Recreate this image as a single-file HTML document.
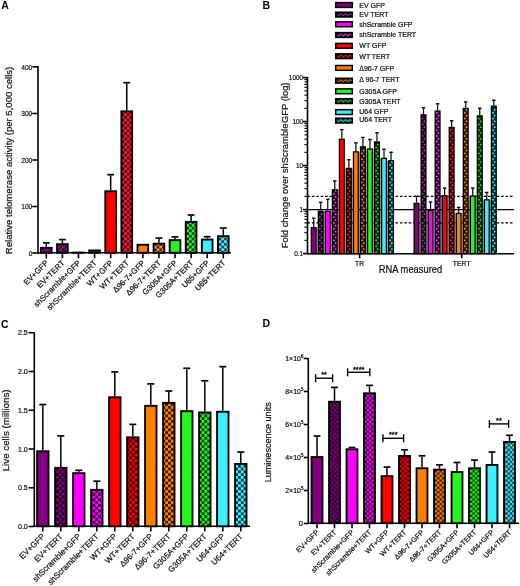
<!DOCTYPE html>
<html><head><meta charset="utf-8"><style>
html,body{margin:0;padding:0;background:#fff;width:520px;height:586px;overflow:hidden}
svg{display:block;will-change:transform}
text{font-family:"Liberation Sans", sans-serif}
</style></head><body>
<svg width="520" height="586" viewBox="0 0 520 586">
<defs><pattern id="a800080" patternUnits="userSpaceOnUse" width="5.4" height="5.4"><rect width="5.4" height="5.4" fill="#2a002a"/><rect width="2.7" height="2.7" fill="#8a1a8a"/><rect x="2.7" y="2.7" width="2.7" height="2.7" fill="#8a1a8a"/></pattern><pattern id="a3cf0ff" patternUnits="userSpaceOnUse" width="5.4" height="5.4"><rect width="5.4" height="5.4" fill="#004850"/><rect width="2.7" height="2.7" fill="#50e8f8"/><rect x="2.7" y="2.7" width="2.7" height="2.7" fill="#50e8f8"/></pattern><pattern id="aff8000" patternUnits="userSpaceOnUse" width="5.4" height="5.4"><rect width="5.4" height="5.4" fill="#502000"/><rect width="2.7" height="2.7" fill="#f09040"/><rect x="2.7" y="2.7" width="2.7" height="2.7" fill="#f09040"/></pattern><pattern id="aff00ff" patternUnits="userSpaceOnUse" width="5.4" height="5.4"><rect width="5.4" height="5.4" fill="#400040"/><rect width="2.7" height="2.7" fill="#f020f0"/><rect x="2.7" y="2.7" width="2.7" height="2.7" fill="#f020f0"/></pattern><pattern id="a26f520" patternUnits="userSpaceOnUse" width="5.4" height="5.4"><rect width="5.4" height="5.4" fill="#004a00"/><rect width="2.7" height="2.7" fill="#40e040"/><rect x="2.7" y="2.7" width="2.7" height="2.7" fill="#40e040"/></pattern><pattern id="aff0000" patternUnits="userSpaceOnUse" width="5.4" height="5.4"><rect width="5.4" height="5.4" fill="#5a0010"/><rect width="2.7" height="2.7" fill="#e6203a"/><rect x="2.7" y="2.7" width="2.7" height="2.7" fill="#e6203a"/></pattern><pattern id="c800080" patternUnits="userSpaceOnUse" width="5.6" height="5.6"><rect width="5.6" height="5.6" fill="#1a001a"/><rect width="2.8" height="2.8" fill="#800080"/><rect x="2.8" y="2.8" width="2.8" height="2.8" fill="#800080"/></pattern><pattern id="c3cf0ff" patternUnits="userSpaceOnUse" width="5.6" height="5.6"><rect width="5.6" height="5.6" fill="#003a40"/><rect width="2.8" height="2.8" fill="#3cf0ff"/><rect x="2.8" y="2.8" width="2.8" height="2.8" fill="#3cf0ff"/></pattern><pattern id="cff8000" patternUnits="userSpaceOnUse" width="5.6" height="5.6"><rect width="5.6" height="5.6" fill="#3a1800"/><rect width="2.8" height="2.8" fill="#ff8000"/><rect x="2.8" y="2.8" width="2.8" height="2.8" fill="#ff8000"/></pattern><pattern id="cff00ff" patternUnits="userSpaceOnUse" width="5.6" height="5.6"><rect width="5.6" height="5.6" fill="#300030"/><rect width="2.8" height="2.8" fill="#ff00ff"/><rect x="2.8" y="2.8" width="2.8" height="2.8" fill="#ff00ff"/></pattern><pattern id="c26f520" patternUnits="userSpaceOnUse" width="5.6" height="5.6"><rect width="5.6" height="5.6" fill="#003a00"/><rect width="2.8" height="2.8" fill="#26f520"/><rect x="2.8" y="2.8" width="2.8" height="2.8" fill="#26f520"/></pattern><pattern id="cff0000" patternUnits="userSpaceOnUse" width="5.6" height="5.6"><rect width="5.6" height="5.6" fill="#3a0000"/><rect width="2.8" height="2.8" fill="#ff0000"/><rect x="2.8" y="2.8" width="2.8" height="2.8" fill="#ff0000"/></pattern><pattern id="d800080" patternUnits="userSpaceOnUse" width="4.7" height="4.7"><rect width="4.7" height="4.7" fill="#1a001a"/><rect width="2.35" height="2.35" fill="#800080"/><rect x="2.35" y="2.35" width="2.35" height="2.35" fill="#800080"/></pattern><pattern id="d3cf0ff" patternUnits="userSpaceOnUse" width="4.7" height="4.7"><rect width="4.7" height="4.7" fill="#003a40"/><rect width="2.35" height="2.35" fill="#3cf0ff"/><rect x="2.35" y="2.35" width="2.35" height="2.35" fill="#3cf0ff"/></pattern><pattern id="dff8000" patternUnits="userSpaceOnUse" width="4.7" height="4.7"><rect width="4.7" height="4.7" fill="#3a1800"/><rect width="2.35" height="2.35" fill="#ff8000"/><rect x="2.35" y="2.35" width="2.35" height="2.35" fill="#ff8000"/></pattern><pattern id="dff00ff" patternUnits="userSpaceOnUse" width="4.7" height="4.7"><rect width="4.7" height="4.7" fill="#300030"/><rect width="2.35" height="2.35" fill="#ff00ff"/><rect x="2.35" y="2.35" width="2.35" height="2.35" fill="#ff00ff"/></pattern><pattern id="d26f520" patternUnits="userSpaceOnUse" width="4.7" height="4.7"><rect width="4.7" height="4.7" fill="#003a00"/><rect width="2.35" height="2.35" fill="#26f520"/><rect x="2.35" y="2.35" width="2.35" height="2.35" fill="#26f520"/></pattern><pattern id="dff0000" patternUnits="userSpaceOnUse" width="4.7" height="4.7"><rect width="4.7" height="4.7" fill="#3a0000"/><rect width="2.35" height="2.35" fill="#ff0000"/><rect x="2.35" y="2.35" width="2.35" height="2.35" fill="#ff0000"/></pattern><pattern id="b800080" patternUnits="userSpaceOnUse" width="3" height="4"><rect width="3" height="4" fill="#1a001a"/><circle cx="1" cy="1" r="0.8" fill="#800080"/><circle cx="2" cy="3" r="0.8" fill="#800080"/></pattern><pattern id="b3cf0ff" patternUnits="userSpaceOnUse" width="3" height="4"><rect width="3" height="4" fill="#003a40"/><circle cx="1" cy="1" r="0.8" fill="#3cf0ff"/><circle cx="2" cy="3" r="0.8" fill="#3cf0ff"/></pattern><pattern id="bff8000" patternUnits="userSpaceOnUse" width="3" height="4"><rect width="3" height="4" fill="#3a1800"/><circle cx="1" cy="1" r="0.8" fill="#ff8000"/><circle cx="2" cy="3" r="0.8" fill="#ff8000"/></pattern><pattern id="bff00ff" patternUnits="userSpaceOnUse" width="3" height="4"><rect width="3" height="4" fill="#300030"/><circle cx="1" cy="1" r="0.8" fill="#ff00ff"/><circle cx="2" cy="3" r="0.8" fill="#ff00ff"/></pattern><pattern id="b26f520" patternUnits="userSpaceOnUse" width="3" height="4"><rect width="3" height="4" fill="#003a00"/><circle cx="1" cy="1" r="0.8" fill="#26f520"/><circle cx="2" cy="3" r="0.8" fill="#26f520"/></pattern><pattern id="bff0000" patternUnits="userSpaceOnUse" width="3" height="4"><rect width="3" height="4" fill="#3a0000"/><circle cx="1" cy="1" r="0.8" fill="#ff0000"/><circle cx="2" cy="3" r="0.8" fill="#ff0000"/></pattern></defs>
<rect width="520" height="586" fill="#fff"/>
<text x="1.20" y="8.60" font-size="10.5" text-anchor="start" font-weight="bold" fill="#000"   >A</text>
<line x1="38.00" y1="66.00" x2="38.00" y2="254.00" stroke="#000" stroke-width="1.6" />
<line x1="32.30" y1="253.00" x2="38.00" y2="253.00" stroke="#000" stroke-width="1.6" />
<text x="32.30" y="255.70" font-size="7.5" text-anchor="end" font-weight="normal" fill="#111" stroke="#111" stroke-width="0.22" textLength="3.67" lengthAdjust="spacingAndGlyphs" >0</text>
<line x1="32.30" y1="206.50" x2="38.00" y2="206.50" stroke="#000" stroke-width="1.6" />
<text x="32.30" y="209.20" font-size="7.5" text-anchor="end" font-weight="normal" fill="#111" stroke="#111" stroke-width="0.22" textLength="11.01" lengthAdjust="spacingAndGlyphs" >100</text>
<line x1="32.30" y1="160.00" x2="38.00" y2="160.00" stroke="#000" stroke-width="1.6" />
<text x="32.30" y="162.70" font-size="7.5" text-anchor="end" font-weight="normal" fill="#111" stroke="#111" stroke-width="0.22" textLength="11.01" lengthAdjust="spacingAndGlyphs" >200</text>
<line x1="32.30" y1="113.50" x2="38.00" y2="113.50" stroke="#000" stroke-width="1.6" />
<text x="32.30" y="116.20" font-size="7.5" text-anchor="end" font-weight="normal" fill="#111" stroke="#111" stroke-width="0.22" textLength="11.01" lengthAdjust="spacingAndGlyphs" >300</text>
<line x1="32.30" y1="66.80" x2="38.00" y2="66.80" stroke="#000" stroke-width="1.6" />
<text x="32.30" y="69.50" font-size="7.5" text-anchor="end" font-weight="normal" fill="#111" stroke="#111" stroke-width="0.22" textLength="11.01" lengthAdjust="spacingAndGlyphs" >400</text>
<line x1="37.20" y1="252.80" x2="231.00" y2="252.80" stroke="#000" stroke-width="1.6" />
<line x1="46.30" y1="246.90" x2="46.30" y2="243.75" stroke="#000" stroke-width="1.5" />
<line x1="42.90" y1="242.90" x2="49.70" y2="242.90" stroke="#000" stroke-width="1.7" />
<rect x="40.95" y="247.85" width="10.70" height="4.95" fill="#800080" stroke="#000" stroke-width="1.9"/>
<line x1="46.30" y1="252.80" x2="46.30" y2="258.30" stroke="#000" stroke-width="1.6" />
<text transform="translate(49.00,263.40) rotate(-45)" font-size="7.9" text-anchor="end" fill="#111" stroke="#111" stroke-width="0.22" >EV+GFP</text>
<line x1="62.39" y1="243.20" x2="62.39" y2="240.45" stroke="#000" stroke-width="1.5" />
<line x1="58.99" y1="239.60" x2="65.79" y2="239.60" stroke="#000" stroke-width="1.7" />
<rect x="57.04" y="244.15" width="10.70" height="8.65" fill="url(#a800080)" stroke="#000" stroke-width="1.9"/>
<line x1="62.39" y1="252.80" x2="62.39" y2="258.30" stroke="#000" stroke-width="1.6" />
<text transform="translate(65.09,263.40) rotate(-45)" font-size="7.9" text-anchor="end" fill="#111" stroke="#111" stroke-width="0.22" >EV+TERT</text>
<rect x="73.13" y="252.55" width="10.70" height="0.25" fill="#ff00ff" stroke="#000" stroke-width="1.9"/>
<line x1="78.48" y1="252.80" x2="78.48" y2="258.30" stroke="#000" stroke-width="1.6" />
<text transform="translate(81.18,263.40) rotate(-45)" font-size="7.9" text-anchor="end" fill="#111" stroke="#111" stroke-width="0.22" >shScramble+GFP</text>
<rect x="89.22" y="250.45" width="10.70" height="2.35" fill="url(#aff00ff)" stroke="#000" stroke-width="1.9"/>
<line x1="94.57" y1="252.80" x2="94.57" y2="258.30" stroke="#000" stroke-width="1.6" />
<text transform="translate(97.27,263.40) rotate(-45)" font-size="7.9" text-anchor="end" fill="#111" stroke="#111" stroke-width="0.22" >shScramble+TERT</text>
<line x1="110.66" y1="190.30" x2="110.66" y2="175.55" stroke="#000" stroke-width="1.5" />
<line x1="107.26" y1="174.70" x2="114.06" y2="174.70" stroke="#000" stroke-width="1.7" />
<rect x="105.31" y="191.25" width="10.70" height="61.55" fill="#ff0000" stroke="#000" stroke-width="1.9"/>
<line x1="110.66" y1="252.80" x2="110.66" y2="258.30" stroke="#000" stroke-width="1.6" />
<text transform="translate(113.36,263.40) rotate(-45)" font-size="7.9" text-anchor="end" fill="#111" stroke="#111" stroke-width="0.22" >WT+GFP</text>
<line x1="126.75" y1="110.40" x2="126.75" y2="83.55" stroke="#000" stroke-width="1.5" />
<line x1="123.35" y1="82.70" x2="130.15" y2="82.70" stroke="#000" stroke-width="1.7" />
<rect x="121.40" y="111.35" width="10.70" height="141.45" fill="url(#aff0000)" stroke="#000" stroke-width="1.9"/>
<line x1="126.75" y1="252.80" x2="126.75" y2="258.30" stroke="#000" stroke-width="1.6" />
<text transform="translate(129.45,263.40) rotate(-45)" font-size="7.9" text-anchor="end" fill="#111" stroke="#111" stroke-width="0.22" >WT+TERT</text>
<rect x="137.49" y="244.75" width="10.70" height="8.05" fill="#ff8000" stroke="#000" stroke-width="1.9"/>
<line x1="142.84" y1="252.80" x2="142.84" y2="258.30" stroke="#000" stroke-width="1.6" />
<text transform="translate(145.54,263.40) rotate(-45)" font-size="7.9" text-anchor="end" fill="#111" stroke="#111" stroke-width="0.22" >&#916;96-7+GFP</text>
<line x1="158.93" y1="242.70" x2="158.93" y2="238.95" stroke="#000" stroke-width="1.5" />
<line x1="155.53" y1="238.10" x2="162.33" y2="238.10" stroke="#000" stroke-width="1.7" />
<rect x="153.58" y="243.65" width="10.70" height="9.15" fill="url(#aff8000)" stroke="#000" stroke-width="1.9"/>
<line x1="158.93" y1="252.80" x2="158.93" y2="258.30" stroke="#000" stroke-width="1.6" />
<text transform="translate(161.63,263.40) rotate(-45)" font-size="7.9" text-anchor="end" fill="#111" stroke="#111" stroke-width="0.22" >&#916;96-7+TERT</text>
<line x1="175.02" y1="239.20" x2="175.02" y2="237.75" stroke="#000" stroke-width="1.5" />
<line x1="171.62" y1="236.90" x2="178.42" y2="236.90" stroke="#000" stroke-width="1.7" />
<rect x="169.67" y="240.15" width="10.70" height="12.65" fill="#26f520" stroke="#000" stroke-width="1.9"/>
<line x1="175.02" y1="252.80" x2="175.02" y2="258.30" stroke="#000" stroke-width="1.6" />
<text transform="translate(177.72,263.40) rotate(-45)" font-size="7.9" text-anchor="end" fill="#111" stroke="#111" stroke-width="0.22" >G305A+GFP</text>
<line x1="191.11" y1="221.00" x2="191.11" y2="215.85" stroke="#000" stroke-width="1.5" />
<line x1="187.71" y1="215.00" x2="194.51" y2="215.00" stroke="#000" stroke-width="1.7" />
<rect x="185.76" y="221.95" width="10.70" height="30.85" fill="url(#a26f520)" stroke="#000" stroke-width="1.9"/>
<line x1="191.11" y1="252.80" x2="191.11" y2="258.30" stroke="#000" stroke-width="1.6" />
<text transform="translate(193.81,263.40) rotate(-45)" font-size="7.9" text-anchor="end" fill="#111" stroke="#111" stroke-width="0.22" >G305A+TERT</text>
<line x1="207.20" y1="238.60" x2="207.20" y2="237.55" stroke="#000" stroke-width="1.5" />
<line x1="203.80" y1="236.70" x2="210.60" y2="236.70" stroke="#000" stroke-width="1.7" />
<rect x="201.85" y="239.55" width="10.70" height="13.25" fill="#3cf0ff" stroke="#000" stroke-width="1.9"/>
<line x1="207.20" y1="252.80" x2="207.20" y2="258.30" stroke="#000" stroke-width="1.6" />
<text transform="translate(209.90,263.40) rotate(-45)" font-size="7.9" text-anchor="end" fill="#111" stroke="#111" stroke-width="0.22" >U65+GFP</text>
<line x1="223.29" y1="235.20" x2="223.29" y2="228.85" stroke="#000" stroke-width="1.5" />
<line x1="219.89" y1="228.00" x2="226.69" y2="228.00" stroke="#000" stroke-width="1.7" />
<rect x="217.94" y="236.15" width="10.70" height="16.65" fill="url(#a3cf0ff)" stroke="#000" stroke-width="1.9"/>
<line x1="223.29" y1="252.80" x2="223.29" y2="258.30" stroke="#000" stroke-width="1.6" />
<text transform="translate(225.99,263.40) rotate(-45)" font-size="7.9" text-anchor="end" fill="#111" stroke="#111" stroke-width="0.22" >U65+TERT</text>
<text transform="translate(11.80,160.50) rotate(-90)" font-size="9.5" text-anchor="middle" fill="#111" stroke="#111" stroke-width="0.22" textLength="187.4" lengthAdjust="spacingAndGlyphs">Relative telomerase activity (per 5,000 cells)</text>
<text x="262.40" y="9.20" font-size="10.5" text-anchor="start" font-weight="bold" fill="#000"   >B</text>
<rect x="316.75" y="228.00" width="0.93" height="25.70" fill="#9a9a9a"/>
<rect x="323.78" y="211.60" width="0.93" height="42.10" fill="#9a9a9a"/>
<rect x="330.81" y="211.60" width="0.93" height="42.10" fill="#9a9a9a"/>
<rect x="337.84" y="190.10" width="0.93" height="63.60" fill="#9a9a9a"/>
<rect x="344.87" y="168.70" width="0.93" height="85.00" fill="#9a9a9a"/>
<rect x="351.90" y="168.70" width="0.93" height="85.00" fill="#9a9a9a"/>
<rect x="358.93" y="152.20" width="0.93" height="101.50" fill="#9a9a9a"/>
<rect x="365.96" y="149.30" width="0.93" height="104.40" fill="#9a9a9a"/>
<rect x="372.99" y="149.30" width="0.93" height="104.40" fill="#9a9a9a"/>
<rect x="380.02" y="158.70" width="0.93" height="95.00" fill="#9a9a9a"/>
<rect x="387.05" y="161.10" width="0.93" height="92.60" fill="#9a9a9a"/>
<rect x="419.55" y="203.70" width="0.93" height="50.00" fill="#9a9a9a"/>
<rect x="426.58" y="210.80" width="0.93" height="42.90" fill="#9a9a9a"/>
<rect x="433.61" y="210.80" width="0.93" height="42.90" fill="#9a9a9a"/>
<rect x="440.64" y="196.00" width="0.93" height="57.70" fill="#9a9a9a"/>
<rect x="447.67" y="196.00" width="0.93" height="57.70" fill="#9a9a9a"/>
<rect x="454.70" y="213.70" width="0.93" height="40.00" fill="#9a9a9a"/>
<rect x="461.73" y="213.70" width="0.93" height="40.00" fill="#9a9a9a"/>
<rect x="468.76" y="196.40" width="0.93" height="57.30" fill="#9a9a9a"/>
<rect x="475.79" y="196.40" width="0.93" height="57.30" fill="#9a9a9a"/>
<rect x="482.82" y="200.20" width="0.93" height="53.50" fill="#9a9a9a"/>
<rect x="489.85" y="200.20" width="0.93" height="53.50" fill="#9a9a9a"/>
<line x1="307.50" y1="209.60" x2="514.00" y2="209.60" stroke="#000" stroke-width="1.3" />
<line x1="307.50" y1="196.35" x2="514.00" y2="196.35" stroke="#000" stroke-width="1.3" stroke-dasharray="2.6 1.8"/>
<line x1="307.50" y1="222.85" x2="514.00" y2="222.85" stroke="#000" stroke-width="1.3" stroke-dasharray="2.6 1.8"/>
<line x1="313.70" y1="227.00" x2="313.70" y2="218.95" stroke="#000" stroke-width="1.2" />
<line x1="312.00" y1="218.20" x2="315.40" y2="218.20" stroke="#000" stroke-width="1.5" />
<rect x="311.30" y="227.65" width="4.80" height="26.05" fill="#800080" stroke="#000" stroke-width="1.3"/>
<line x1="320.73" y1="210.60" x2="320.73" y2="203.15" stroke="#000" stroke-width="1.2" />
<line x1="319.03" y1="202.40" x2="322.43" y2="202.40" stroke="#000" stroke-width="1.5" />
<rect x="318.33" y="211.25" width="4.80" height="42.45" fill="#1a001a" stroke="#000" stroke-width="1.3"/>
<circle cx="319.88" cy="251.90" r="0.85" fill="#b050b0"/>
<circle cx="321.58" cy="249.00" r="0.85" fill="#b050b0"/>
<circle cx="319.88" cy="246.10" r="0.85" fill="#b050b0"/>
<circle cx="321.58" cy="243.20" r="0.85" fill="#b050b0"/>
<circle cx="319.88" cy="240.30" r="0.85" fill="#b050b0"/>
<circle cx="321.58" cy="237.40" r="0.85" fill="#b050b0"/>
<circle cx="319.88" cy="234.50" r="0.85" fill="#b050b0"/>
<circle cx="321.58" cy="231.60" r="0.85" fill="#b050b0"/>
<circle cx="319.88" cy="228.70" r="0.85" fill="#b050b0"/>
<circle cx="321.58" cy="225.80" r="0.85" fill="#b050b0"/>
<circle cx="319.88" cy="222.90" r="0.85" fill="#b050b0"/>
<circle cx="321.58" cy="220.00" r="0.85" fill="#b050b0"/>
<circle cx="319.88" cy="217.10" r="0.85" fill="#b050b0"/>
<circle cx="321.58" cy="214.20" r="0.85" fill="#b050b0"/>
<line x1="327.76" y1="210.60" x2="327.76" y2="200.15" stroke="#000" stroke-width="1.2" />
<line x1="326.06" y1="199.40" x2="329.46" y2="199.40" stroke="#000" stroke-width="1.5" />
<rect x="325.36" y="211.25" width="4.80" height="42.45" fill="#ff00ff" stroke="#000" stroke-width="1.3"/>
<line x1="334.79" y1="189.10" x2="334.79" y2="181.75" stroke="#000" stroke-width="1.2" />
<line x1="333.09" y1="181.00" x2="336.49" y2="181.00" stroke="#000" stroke-width="1.5" />
<rect x="332.39" y="189.75" width="4.80" height="63.95" fill="#300030" stroke="#000" stroke-width="1.3"/>
<circle cx="333.94" cy="251.90" r="0.85" fill="#ff60ff"/>
<circle cx="335.64" cy="249.00" r="0.85" fill="#ff60ff"/>
<circle cx="333.94" cy="246.10" r="0.85" fill="#ff60ff"/>
<circle cx="335.64" cy="243.20" r="0.85" fill="#ff60ff"/>
<circle cx="333.94" cy="240.30" r="0.85" fill="#ff60ff"/>
<circle cx="335.64" cy="237.40" r="0.85" fill="#ff60ff"/>
<circle cx="333.94" cy="234.50" r="0.85" fill="#ff60ff"/>
<circle cx="335.64" cy="231.60" r="0.85" fill="#ff60ff"/>
<circle cx="333.94" cy="228.70" r="0.85" fill="#ff60ff"/>
<circle cx="335.64" cy="225.80" r="0.85" fill="#ff60ff"/>
<circle cx="333.94" cy="222.90" r="0.85" fill="#ff60ff"/>
<circle cx="335.64" cy="220.00" r="0.85" fill="#ff60ff"/>
<circle cx="333.94" cy="217.10" r="0.85" fill="#ff60ff"/>
<circle cx="335.64" cy="214.20" r="0.85" fill="#ff60ff"/>
<circle cx="333.94" cy="211.30" r="0.85" fill="#ff60ff"/>
<circle cx="335.64" cy="208.40" r="0.85" fill="#ff60ff"/>
<circle cx="333.94" cy="205.50" r="0.85" fill="#ff60ff"/>
<circle cx="335.64" cy="202.60" r="0.85" fill="#ff60ff"/>
<circle cx="333.94" cy="199.70" r="0.85" fill="#ff60ff"/>
<circle cx="335.64" cy="196.80" r="0.85" fill="#ff60ff"/>
<circle cx="333.94" cy="193.90" r="0.85" fill="#ff60ff"/>
<circle cx="335.64" cy="191.00" r="0.85" fill="#ff60ff"/>
<line x1="341.82" y1="138.60" x2="341.82" y2="130.45" stroke="#000" stroke-width="1.2" />
<line x1="340.12" y1="129.70" x2="343.52" y2="129.70" stroke="#000" stroke-width="1.5" />
<rect x="339.42" y="139.25" width="4.80" height="114.45" fill="#ff0000" stroke="#000" stroke-width="1.3"/>
<line x1="348.85" y1="167.70" x2="348.85" y2="160.55" stroke="#000" stroke-width="1.2" />
<line x1="347.15" y1="159.80" x2="350.55" y2="159.80" stroke="#000" stroke-width="1.5" />
<rect x="346.45" y="168.35" width="4.80" height="85.35" fill="#3a0000" stroke="#000" stroke-width="1.3"/>
<circle cx="348.00" cy="251.90" r="0.85" fill="#ff4040"/>
<circle cx="349.70" cy="249.00" r="0.85" fill="#ff4040"/>
<circle cx="348.00" cy="246.10" r="0.85" fill="#ff4040"/>
<circle cx="349.70" cy="243.20" r="0.85" fill="#ff4040"/>
<circle cx="348.00" cy="240.30" r="0.85" fill="#ff4040"/>
<circle cx="349.70" cy="237.40" r="0.85" fill="#ff4040"/>
<circle cx="348.00" cy="234.50" r="0.85" fill="#ff4040"/>
<circle cx="349.70" cy="231.60" r="0.85" fill="#ff4040"/>
<circle cx="348.00" cy="228.70" r="0.85" fill="#ff4040"/>
<circle cx="349.70" cy="225.80" r="0.85" fill="#ff4040"/>
<circle cx="348.00" cy="222.90" r="0.85" fill="#ff4040"/>
<circle cx="349.70" cy="220.00" r="0.85" fill="#ff4040"/>
<circle cx="348.00" cy="217.10" r="0.85" fill="#ff4040"/>
<circle cx="349.70" cy="214.20" r="0.85" fill="#ff4040"/>
<circle cx="348.00" cy="211.30" r="0.85" fill="#ff4040"/>
<circle cx="349.70" cy="208.40" r="0.85" fill="#ff4040"/>
<circle cx="348.00" cy="205.50" r="0.85" fill="#ff4040"/>
<circle cx="349.70" cy="202.60" r="0.85" fill="#ff4040"/>
<circle cx="348.00" cy="199.70" r="0.85" fill="#ff4040"/>
<circle cx="349.70" cy="196.80" r="0.85" fill="#ff4040"/>
<circle cx="348.00" cy="193.90" r="0.85" fill="#ff4040"/>
<circle cx="349.70" cy="191.00" r="0.85" fill="#ff4040"/>
<circle cx="348.00" cy="188.10" r="0.85" fill="#ff4040"/>
<circle cx="349.70" cy="185.20" r="0.85" fill="#ff4040"/>
<circle cx="348.00" cy="182.30" r="0.85" fill="#ff4040"/>
<circle cx="349.70" cy="179.40" r="0.85" fill="#ff4040"/>
<circle cx="348.00" cy="176.50" r="0.85" fill="#ff4040"/>
<circle cx="349.70" cy="173.60" r="0.85" fill="#ff4040"/>
<circle cx="348.00" cy="170.70" r="0.85" fill="#ff4040"/>
<line x1="355.88" y1="151.20" x2="355.88" y2="143.65" stroke="#000" stroke-width="1.2" />
<line x1="354.18" y1="142.90" x2="357.58" y2="142.90" stroke="#000" stroke-width="1.5" />
<rect x="353.48" y="151.85" width="4.80" height="101.85" fill="#ff8000" stroke="#000" stroke-width="1.3"/>
<line x1="362.91" y1="146.20" x2="362.91" y2="138.25" stroke="#000" stroke-width="1.2" />
<line x1="361.21" y1="137.50" x2="364.61" y2="137.50" stroke="#000" stroke-width="1.5" />
<rect x="360.51" y="146.85" width="4.80" height="106.85" fill="#3a1800" stroke="#000" stroke-width="1.3"/>
<circle cx="362.06" cy="251.90" r="0.85" fill="#f0a060"/>
<circle cx="363.76" cy="249.00" r="0.85" fill="#f0a060"/>
<circle cx="362.06" cy="246.10" r="0.85" fill="#f0a060"/>
<circle cx="363.76" cy="243.20" r="0.85" fill="#f0a060"/>
<circle cx="362.06" cy="240.30" r="0.85" fill="#f0a060"/>
<circle cx="363.76" cy="237.40" r="0.85" fill="#f0a060"/>
<circle cx="362.06" cy="234.50" r="0.85" fill="#f0a060"/>
<circle cx="363.76" cy="231.60" r="0.85" fill="#f0a060"/>
<circle cx="362.06" cy="228.70" r="0.85" fill="#f0a060"/>
<circle cx="363.76" cy="225.80" r="0.85" fill="#f0a060"/>
<circle cx="362.06" cy="222.90" r="0.85" fill="#f0a060"/>
<circle cx="363.76" cy="220.00" r="0.85" fill="#f0a060"/>
<circle cx="362.06" cy="217.10" r="0.85" fill="#f0a060"/>
<circle cx="363.76" cy="214.20" r="0.85" fill="#f0a060"/>
<circle cx="362.06" cy="211.30" r="0.85" fill="#f0a060"/>
<circle cx="363.76" cy="208.40" r="0.85" fill="#f0a060"/>
<circle cx="362.06" cy="205.50" r="0.85" fill="#f0a060"/>
<circle cx="363.76" cy="202.60" r="0.85" fill="#f0a060"/>
<circle cx="362.06" cy="199.70" r="0.85" fill="#f0a060"/>
<circle cx="363.76" cy="196.80" r="0.85" fill="#f0a060"/>
<circle cx="362.06" cy="193.90" r="0.85" fill="#f0a060"/>
<circle cx="363.76" cy="191.00" r="0.85" fill="#f0a060"/>
<circle cx="362.06" cy="188.10" r="0.85" fill="#f0a060"/>
<circle cx="363.76" cy="185.20" r="0.85" fill="#f0a060"/>
<circle cx="362.06" cy="182.30" r="0.85" fill="#f0a060"/>
<circle cx="363.76" cy="179.40" r="0.85" fill="#f0a060"/>
<circle cx="362.06" cy="176.50" r="0.85" fill="#f0a060"/>
<circle cx="363.76" cy="173.60" r="0.85" fill="#f0a060"/>
<circle cx="362.06" cy="170.70" r="0.85" fill="#f0a060"/>
<circle cx="363.76" cy="167.80" r="0.85" fill="#f0a060"/>
<circle cx="362.06" cy="164.90" r="0.85" fill="#f0a060"/>
<circle cx="363.76" cy="162.00" r="0.85" fill="#f0a060"/>
<circle cx="362.06" cy="159.10" r="0.85" fill="#f0a060"/>
<circle cx="363.76" cy="156.20" r="0.85" fill="#f0a060"/>
<circle cx="362.06" cy="153.30" r="0.85" fill="#f0a060"/>
<circle cx="363.76" cy="150.40" r="0.85" fill="#f0a060"/>
<line x1="369.94" y1="148.30" x2="369.94" y2="140.25" stroke="#000" stroke-width="1.2" />
<line x1="368.24" y1="139.50" x2="371.64" y2="139.50" stroke="#000" stroke-width="1.5" />
<rect x="367.54" y="148.95" width="4.80" height="104.75" fill="#26f520" stroke="#000" stroke-width="1.3"/>
<line x1="376.97" y1="141.30" x2="376.97" y2="133.55" stroke="#000" stroke-width="1.2" />
<line x1="375.27" y1="132.80" x2="378.67" y2="132.80" stroke="#000" stroke-width="1.5" />
<rect x="374.57" y="141.95" width="4.80" height="111.75" fill="#003a00" stroke="#000" stroke-width="1.3"/>
<circle cx="376.12" cy="251.90" r="0.85" fill="#60d060"/>
<circle cx="377.82" cy="249.00" r="0.85" fill="#60d060"/>
<circle cx="376.12" cy="246.10" r="0.85" fill="#60d060"/>
<circle cx="377.82" cy="243.20" r="0.85" fill="#60d060"/>
<circle cx="376.12" cy="240.30" r="0.85" fill="#60d060"/>
<circle cx="377.82" cy="237.40" r="0.85" fill="#60d060"/>
<circle cx="376.12" cy="234.50" r="0.85" fill="#60d060"/>
<circle cx="377.82" cy="231.60" r="0.85" fill="#60d060"/>
<circle cx="376.12" cy="228.70" r="0.85" fill="#60d060"/>
<circle cx="377.82" cy="225.80" r="0.85" fill="#60d060"/>
<circle cx="376.12" cy="222.90" r="0.85" fill="#60d060"/>
<circle cx="377.82" cy="220.00" r="0.85" fill="#60d060"/>
<circle cx="376.12" cy="217.10" r="0.85" fill="#60d060"/>
<circle cx="377.82" cy="214.20" r="0.85" fill="#60d060"/>
<circle cx="376.12" cy="211.30" r="0.85" fill="#60d060"/>
<circle cx="377.82" cy="208.40" r="0.85" fill="#60d060"/>
<circle cx="376.12" cy="205.50" r="0.85" fill="#60d060"/>
<circle cx="377.82" cy="202.60" r="0.85" fill="#60d060"/>
<circle cx="376.12" cy="199.70" r="0.85" fill="#60d060"/>
<circle cx="377.82" cy="196.80" r="0.85" fill="#60d060"/>
<circle cx="376.12" cy="193.90" r="0.85" fill="#60d060"/>
<circle cx="377.82" cy="191.00" r="0.85" fill="#60d060"/>
<circle cx="376.12" cy="188.10" r="0.85" fill="#60d060"/>
<circle cx="377.82" cy="185.20" r="0.85" fill="#60d060"/>
<circle cx="376.12" cy="182.30" r="0.85" fill="#60d060"/>
<circle cx="377.82" cy="179.40" r="0.85" fill="#60d060"/>
<circle cx="376.12" cy="176.50" r="0.85" fill="#60d060"/>
<circle cx="377.82" cy="173.60" r="0.85" fill="#60d060"/>
<circle cx="376.12" cy="170.70" r="0.85" fill="#60d060"/>
<circle cx="377.82" cy="167.80" r="0.85" fill="#60d060"/>
<circle cx="376.12" cy="164.90" r="0.85" fill="#60d060"/>
<circle cx="377.82" cy="162.00" r="0.85" fill="#60d060"/>
<circle cx="376.12" cy="159.10" r="0.85" fill="#60d060"/>
<circle cx="377.82" cy="156.20" r="0.85" fill="#60d060"/>
<circle cx="376.12" cy="153.30" r="0.85" fill="#60d060"/>
<circle cx="377.82" cy="150.40" r="0.85" fill="#60d060"/>
<circle cx="376.12" cy="147.50" r="0.85" fill="#60d060"/>
<circle cx="377.82" cy="144.60" r="0.85" fill="#60d060"/>
<line x1="384.00" y1="157.70" x2="384.00" y2="150.15" stroke="#000" stroke-width="1.2" />
<line x1="382.30" y1="149.40" x2="385.70" y2="149.40" stroke="#000" stroke-width="1.5" />
<rect x="381.60" y="158.35" width="4.80" height="95.35" fill="#3cf0ff" stroke="#000" stroke-width="1.3"/>
<line x1="391.03" y1="160.10" x2="391.03" y2="153.05" stroke="#000" stroke-width="1.2" />
<line x1="389.33" y1="152.30" x2="392.73" y2="152.30" stroke="#000" stroke-width="1.5" />
<rect x="388.63" y="160.75" width="4.80" height="92.95" fill="#003a40" stroke="#000" stroke-width="1.3"/>
<circle cx="390.18" cy="251.90" r="0.85" fill="#70f0f0"/>
<circle cx="391.88" cy="249.00" r="0.85" fill="#70f0f0"/>
<circle cx="390.18" cy="246.10" r="0.85" fill="#70f0f0"/>
<circle cx="391.88" cy="243.20" r="0.85" fill="#70f0f0"/>
<circle cx="390.18" cy="240.30" r="0.85" fill="#70f0f0"/>
<circle cx="391.88" cy="237.40" r="0.85" fill="#70f0f0"/>
<circle cx="390.18" cy="234.50" r="0.85" fill="#70f0f0"/>
<circle cx="391.88" cy="231.60" r="0.85" fill="#70f0f0"/>
<circle cx="390.18" cy="228.70" r="0.85" fill="#70f0f0"/>
<circle cx="391.88" cy="225.80" r="0.85" fill="#70f0f0"/>
<circle cx="390.18" cy="222.90" r="0.85" fill="#70f0f0"/>
<circle cx="391.88" cy="220.00" r="0.85" fill="#70f0f0"/>
<circle cx="390.18" cy="217.10" r="0.85" fill="#70f0f0"/>
<circle cx="391.88" cy="214.20" r="0.85" fill="#70f0f0"/>
<circle cx="390.18" cy="211.30" r="0.85" fill="#70f0f0"/>
<circle cx="391.88" cy="208.40" r="0.85" fill="#70f0f0"/>
<circle cx="390.18" cy="205.50" r="0.85" fill="#70f0f0"/>
<circle cx="391.88" cy="202.60" r="0.85" fill="#70f0f0"/>
<circle cx="390.18" cy="199.70" r="0.85" fill="#70f0f0"/>
<circle cx="391.88" cy="196.80" r="0.85" fill="#70f0f0"/>
<circle cx="390.18" cy="193.90" r="0.85" fill="#70f0f0"/>
<circle cx="391.88" cy="191.00" r="0.85" fill="#70f0f0"/>
<circle cx="390.18" cy="188.10" r="0.85" fill="#70f0f0"/>
<circle cx="391.88" cy="185.20" r="0.85" fill="#70f0f0"/>
<circle cx="390.18" cy="182.30" r="0.85" fill="#70f0f0"/>
<circle cx="391.88" cy="179.40" r="0.85" fill="#70f0f0"/>
<circle cx="390.18" cy="176.50" r="0.85" fill="#70f0f0"/>
<circle cx="391.88" cy="173.60" r="0.85" fill="#70f0f0"/>
<circle cx="390.18" cy="170.70" r="0.85" fill="#70f0f0"/>
<circle cx="391.88" cy="167.80" r="0.85" fill="#70f0f0"/>
<circle cx="390.18" cy="164.90" r="0.85" fill="#70f0f0"/>
<circle cx="391.88" cy="162.00" r="0.85" fill="#70f0f0"/>
<line x1="416.50" y1="202.70" x2="416.50" y2="197.05" stroke="#000" stroke-width="1.2" />
<line x1="414.80" y1="196.30" x2="418.20" y2="196.30" stroke="#000" stroke-width="1.5" />
<rect x="414.10" y="203.35" width="4.80" height="50.35" fill="#800080" stroke="#000" stroke-width="1.3"/>
<line x1="423.53" y1="114.20" x2="423.53" y2="108.55" stroke="#000" stroke-width="1.2" />
<line x1="421.83" y1="107.80" x2="425.23" y2="107.80" stroke="#000" stroke-width="1.5" />
<rect x="421.13" y="114.85" width="4.80" height="138.85" fill="#1a001a" stroke="#000" stroke-width="1.3"/>
<circle cx="422.68" cy="251.90" r="0.85" fill="#b050b0"/>
<circle cx="424.38" cy="249.00" r="0.85" fill="#b050b0"/>
<circle cx="422.68" cy="246.10" r="0.85" fill="#b050b0"/>
<circle cx="424.38" cy="243.20" r="0.85" fill="#b050b0"/>
<circle cx="422.68" cy="240.30" r="0.85" fill="#b050b0"/>
<circle cx="424.38" cy="237.40" r="0.85" fill="#b050b0"/>
<circle cx="422.68" cy="234.50" r="0.85" fill="#b050b0"/>
<circle cx="424.38" cy="231.60" r="0.85" fill="#b050b0"/>
<circle cx="422.68" cy="228.70" r="0.85" fill="#b050b0"/>
<circle cx="424.38" cy="225.80" r="0.85" fill="#b050b0"/>
<circle cx="422.68" cy="222.90" r="0.85" fill="#b050b0"/>
<circle cx="424.38" cy="220.00" r="0.85" fill="#b050b0"/>
<circle cx="422.68" cy="217.10" r="0.85" fill="#b050b0"/>
<circle cx="424.38" cy="214.20" r="0.85" fill="#b050b0"/>
<circle cx="422.68" cy="211.30" r="0.85" fill="#b050b0"/>
<circle cx="424.38" cy="208.40" r="0.85" fill="#b050b0"/>
<circle cx="422.68" cy="205.50" r="0.85" fill="#b050b0"/>
<circle cx="424.38" cy="202.60" r="0.85" fill="#b050b0"/>
<circle cx="422.68" cy="199.70" r="0.85" fill="#b050b0"/>
<circle cx="424.38" cy="196.80" r="0.85" fill="#b050b0"/>
<circle cx="422.68" cy="193.90" r="0.85" fill="#b050b0"/>
<circle cx="424.38" cy="191.00" r="0.85" fill="#b050b0"/>
<circle cx="422.68" cy="188.10" r="0.85" fill="#b050b0"/>
<circle cx="424.38" cy="185.20" r="0.85" fill="#b050b0"/>
<circle cx="422.68" cy="182.30" r="0.85" fill="#b050b0"/>
<circle cx="424.38" cy="179.40" r="0.85" fill="#b050b0"/>
<circle cx="422.68" cy="176.50" r="0.85" fill="#b050b0"/>
<circle cx="424.38" cy="173.60" r="0.85" fill="#b050b0"/>
<circle cx="422.68" cy="170.70" r="0.85" fill="#b050b0"/>
<circle cx="424.38" cy="167.80" r="0.85" fill="#b050b0"/>
<circle cx="422.68" cy="164.90" r="0.85" fill="#b050b0"/>
<circle cx="424.38" cy="162.00" r="0.85" fill="#b050b0"/>
<circle cx="422.68" cy="159.10" r="0.85" fill="#b050b0"/>
<circle cx="424.38" cy="156.20" r="0.85" fill="#b050b0"/>
<circle cx="422.68" cy="153.30" r="0.85" fill="#b050b0"/>
<circle cx="424.38" cy="150.40" r="0.85" fill="#b050b0"/>
<circle cx="422.68" cy="147.50" r="0.85" fill="#b050b0"/>
<circle cx="424.38" cy="144.60" r="0.85" fill="#b050b0"/>
<circle cx="422.68" cy="141.70" r="0.85" fill="#b050b0"/>
<circle cx="424.38" cy="138.80" r="0.85" fill="#b050b0"/>
<circle cx="422.68" cy="135.90" r="0.85" fill="#b050b0"/>
<circle cx="424.38" cy="133.00" r="0.85" fill="#b050b0"/>
<circle cx="422.68" cy="130.10" r="0.85" fill="#b050b0"/>
<circle cx="424.38" cy="127.20" r="0.85" fill="#b050b0"/>
<circle cx="422.68" cy="124.30" r="0.85" fill="#b050b0"/>
<circle cx="424.38" cy="121.40" r="0.85" fill="#b050b0"/>
<circle cx="422.68" cy="118.50" r="0.85" fill="#b050b0"/>
<line x1="430.56" y1="209.80" x2="430.56" y2="202.85" stroke="#000" stroke-width="1.2" />
<line x1="428.86" y1="202.10" x2="432.26" y2="202.10" stroke="#000" stroke-width="1.5" />
<rect x="428.16" y="210.45" width="4.80" height="43.25" fill="#ff00ff" stroke="#000" stroke-width="1.3"/>
<line x1="437.59" y1="110.40" x2="437.59" y2="104.55" stroke="#000" stroke-width="1.2" />
<line x1="435.89" y1="103.80" x2="439.29" y2="103.80" stroke="#000" stroke-width="1.5" />
<rect x="435.19" y="111.05" width="4.80" height="142.65" fill="#300030" stroke="#000" stroke-width="1.3"/>
<circle cx="436.74" cy="251.90" r="0.85" fill="#ff60ff"/>
<circle cx="438.44" cy="249.00" r="0.85" fill="#ff60ff"/>
<circle cx="436.74" cy="246.10" r="0.85" fill="#ff60ff"/>
<circle cx="438.44" cy="243.20" r="0.85" fill="#ff60ff"/>
<circle cx="436.74" cy="240.30" r="0.85" fill="#ff60ff"/>
<circle cx="438.44" cy="237.40" r="0.85" fill="#ff60ff"/>
<circle cx="436.74" cy="234.50" r="0.85" fill="#ff60ff"/>
<circle cx="438.44" cy="231.60" r="0.85" fill="#ff60ff"/>
<circle cx="436.74" cy="228.70" r="0.85" fill="#ff60ff"/>
<circle cx="438.44" cy="225.80" r="0.85" fill="#ff60ff"/>
<circle cx="436.74" cy="222.90" r="0.85" fill="#ff60ff"/>
<circle cx="438.44" cy="220.00" r="0.85" fill="#ff60ff"/>
<circle cx="436.74" cy="217.10" r="0.85" fill="#ff60ff"/>
<circle cx="438.44" cy="214.20" r="0.85" fill="#ff60ff"/>
<circle cx="436.74" cy="211.30" r="0.85" fill="#ff60ff"/>
<circle cx="438.44" cy="208.40" r="0.85" fill="#ff60ff"/>
<circle cx="436.74" cy="205.50" r="0.85" fill="#ff60ff"/>
<circle cx="438.44" cy="202.60" r="0.85" fill="#ff60ff"/>
<circle cx="436.74" cy="199.70" r="0.85" fill="#ff60ff"/>
<circle cx="438.44" cy="196.80" r="0.85" fill="#ff60ff"/>
<circle cx="436.74" cy="193.90" r="0.85" fill="#ff60ff"/>
<circle cx="438.44" cy="191.00" r="0.85" fill="#ff60ff"/>
<circle cx="436.74" cy="188.10" r="0.85" fill="#ff60ff"/>
<circle cx="438.44" cy="185.20" r="0.85" fill="#ff60ff"/>
<circle cx="436.74" cy="182.30" r="0.85" fill="#ff60ff"/>
<circle cx="438.44" cy="179.40" r="0.85" fill="#ff60ff"/>
<circle cx="436.74" cy="176.50" r="0.85" fill="#ff60ff"/>
<circle cx="438.44" cy="173.60" r="0.85" fill="#ff60ff"/>
<circle cx="436.74" cy="170.70" r="0.85" fill="#ff60ff"/>
<circle cx="438.44" cy="167.80" r="0.85" fill="#ff60ff"/>
<circle cx="436.74" cy="164.90" r="0.85" fill="#ff60ff"/>
<circle cx="438.44" cy="162.00" r="0.85" fill="#ff60ff"/>
<circle cx="436.74" cy="159.10" r="0.85" fill="#ff60ff"/>
<circle cx="438.44" cy="156.20" r="0.85" fill="#ff60ff"/>
<circle cx="436.74" cy="153.30" r="0.85" fill="#ff60ff"/>
<circle cx="438.44" cy="150.40" r="0.85" fill="#ff60ff"/>
<circle cx="436.74" cy="147.50" r="0.85" fill="#ff60ff"/>
<circle cx="438.44" cy="144.60" r="0.85" fill="#ff60ff"/>
<circle cx="436.74" cy="141.70" r="0.85" fill="#ff60ff"/>
<circle cx="438.44" cy="138.80" r="0.85" fill="#ff60ff"/>
<circle cx="436.74" cy="135.90" r="0.85" fill="#ff60ff"/>
<circle cx="438.44" cy="133.00" r="0.85" fill="#ff60ff"/>
<circle cx="436.74" cy="130.10" r="0.85" fill="#ff60ff"/>
<circle cx="438.44" cy="127.20" r="0.85" fill="#ff60ff"/>
<circle cx="436.74" cy="124.30" r="0.85" fill="#ff60ff"/>
<circle cx="438.44" cy="121.40" r="0.85" fill="#ff60ff"/>
<circle cx="436.74" cy="118.50" r="0.85" fill="#ff60ff"/>
<circle cx="438.44" cy="115.60" r="0.85" fill="#ff60ff"/>
<circle cx="436.74" cy="112.70" r="0.85" fill="#ff60ff"/>
<line x1="444.62" y1="195.00" x2="444.62" y2="188.85" stroke="#000" stroke-width="1.2" />
<line x1="442.92" y1="188.10" x2="446.32" y2="188.10" stroke="#000" stroke-width="1.5" />
<rect x="442.22" y="195.65" width="4.80" height="58.05" fill="#ff0000" stroke="#000" stroke-width="1.3"/>
<line x1="451.65" y1="126.80" x2="451.65" y2="121.55" stroke="#000" stroke-width="1.2" />
<line x1="449.95" y1="120.80" x2="453.35" y2="120.80" stroke="#000" stroke-width="1.5" />
<rect x="449.25" y="127.45" width="4.80" height="126.25" fill="#3a0000" stroke="#000" stroke-width="1.3"/>
<circle cx="450.80" cy="251.90" r="0.85" fill="#ff4040"/>
<circle cx="452.50" cy="249.00" r="0.85" fill="#ff4040"/>
<circle cx="450.80" cy="246.10" r="0.85" fill="#ff4040"/>
<circle cx="452.50" cy="243.20" r="0.85" fill="#ff4040"/>
<circle cx="450.80" cy="240.30" r="0.85" fill="#ff4040"/>
<circle cx="452.50" cy="237.40" r="0.85" fill="#ff4040"/>
<circle cx="450.80" cy="234.50" r="0.85" fill="#ff4040"/>
<circle cx="452.50" cy="231.60" r="0.85" fill="#ff4040"/>
<circle cx="450.80" cy="228.70" r="0.85" fill="#ff4040"/>
<circle cx="452.50" cy="225.80" r="0.85" fill="#ff4040"/>
<circle cx="450.80" cy="222.90" r="0.85" fill="#ff4040"/>
<circle cx="452.50" cy="220.00" r="0.85" fill="#ff4040"/>
<circle cx="450.80" cy="217.10" r="0.85" fill="#ff4040"/>
<circle cx="452.50" cy="214.20" r="0.85" fill="#ff4040"/>
<circle cx="450.80" cy="211.30" r="0.85" fill="#ff4040"/>
<circle cx="452.50" cy="208.40" r="0.85" fill="#ff4040"/>
<circle cx="450.80" cy="205.50" r="0.85" fill="#ff4040"/>
<circle cx="452.50" cy="202.60" r="0.85" fill="#ff4040"/>
<circle cx="450.80" cy="199.70" r="0.85" fill="#ff4040"/>
<circle cx="452.50" cy="196.80" r="0.85" fill="#ff4040"/>
<circle cx="450.80" cy="193.90" r="0.85" fill="#ff4040"/>
<circle cx="452.50" cy="191.00" r="0.85" fill="#ff4040"/>
<circle cx="450.80" cy="188.10" r="0.85" fill="#ff4040"/>
<circle cx="452.50" cy="185.20" r="0.85" fill="#ff4040"/>
<circle cx="450.80" cy="182.30" r="0.85" fill="#ff4040"/>
<circle cx="452.50" cy="179.40" r="0.85" fill="#ff4040"/>
<circle cx="450.80" cy="176.50" r="0.85" fill="#ff4040"/>
<circle cx="452.50" cy="173.60" r="0.85" fill="#ff4040"/>
<circle cx="450.80" cy="170.70" r="0.85" fill="#ff4040"/>
<circle cx="452.50" cy="167.80" r="0.85" fill="#ff4040"/>
<circle cx="450.80" cy="164.90" r="0.85" fill="#ff4040"/>
<circle cx="452.50" cy="162.00" r="0.85" fill="#ff4040"/>
<circle cx="450.80" cy="159.10" r="0.85" fill="#ff4040"/>
<circle cx="452.50" cy="156.20" r="0.85" fill="#ff4040"/>
<circle cx="450.80" cy="153.30" r="0.85" fill="#ff4040"/>
<circle cx="452.50" cy="150.40" r="0.85" fill="#ff4040"/>
<circle cx="450.80" cy="147.50" r="0.85" fill="#ff4040"/>
<circle cx="452.50" cy="144.60" r="0.85" fill="#ff4040"/>
<circle cx="450.80" cy="141.70" r="0.85" fill="#ff4040"/>
<circle cx="452.50" cy="138.80" r="0.85" fill="#ff4040"/>
<circle cx="450.80" cy="135.90" r="0.85" fill="#ff4040"/>
<circle cx="452.50" cy="133.00" r="0.85" fill="#ff4040"/>
<circle cx="450.80" cy="130.10" r="0.85" fill="#ff4040"/>
<line x1="458.68" y1="212.70" x2="458.68" y2="208.25" stroke="#000" stroke-width="1.2" />
<line x1="456.98" y1="207.50" x2="460.38" y2="207.50" stroke="#000" stroke-width="1.5" />
<rect x="456.28" y="213.35" width="4.80" height="40.35" fill="#ff8000" stroke="#000" stroke-width="1.3"/>
<line x1="465.71" y1="107.80" x2="465.71" y2="102.75" stroke="#000" stroke-width="1.2" />
<line x1="464.01" y1="102.00" x2="467.41" y2="102.00" stroke="#000" stroke-width="1.5" />
<rect x="463.31" y="108.45" width="4.80" height="145.25" fill="#3a1800" stroke="#000" stroke-width="1.3"/>
<circle cx="464.86" cy="251.90" r="0.85" fill="#f0a060"/>
<circle cx="466.56" cy="249.00" r="0.85" fill="#f0a060"/>
<circle cx="464.86" cy="246.10" r="0.85" fill="#f0a060"/>
<circle cx="466.56" cy="243.20" r="0.85" fill="#f0a060"/>
<circle cx="464.86" cy="240.30" r="0.85" fill="#f0a060"/>
<circle cx="466.56" cy="237.40" r="0.85" fill="#f0a060"/>
<circle cx="464.86" cy="234.50" r="0.85" fill="#f0a060"/>
<circle cx="466.56" cy="231.60" r="0.85" fill="#f0a060"/>
<circle cx="464.86" cy="228.70" r="0.85" fill="#f0a060"/>
<circle cx="466.56" cy="225.80" r="0.85" fill="#f0a060"/>
<circle cx="464.86" cy="222.90" r="0.85" fill="#f0a060"/>
<circle cx="466.56" cy="220.00" r="0.85" fill="#f0a060"/>
<circle cx="464.86" cy="217.10" r="0.85" fill="#f0a060"/>
<circle cx="466.56" cy="214.20" r="0.85" fill="#f0a060"/>
<circle cx="464.86" cy="211.30" r="0.85" fill="#f0a060"/>
<circle cx="466.56" cy="208.40" r="0.85" fill="#f0a060"/>
<circle cx="464.86" cy="205.50" r="0.85" fill="#f0a060"/>
<circle cx="466.56" cy="202.60" r="0.85" fill="#f0a060"/>
<circle cx="464.86" cy="199.70" r="0.85" fill="#f0a060"/>
<circle cx="466.56" cy="196.80" r="0.85" fill="#f0a060"/>
<circle cx="464.86" cy="193.90" r="0.85" fill="#f0a060"/>
<circle cx="466.56" cy="191.00" r="0.85" fill="#f0a060"/>
<circle cx="464.86" cy="188.10" r="0.85" fill="#f0a060"/>
<circle cx="466.56" cy="185.20" r="0.85" fill="#f0a060"/>
<circle cx="464.86" cy="182.30" r="0.85" fill="#f0a060"/>
<circle cx="466.56" cy="179.40" r="0.85" fill="#f0a060"/>
<circle cx="464.86" cy="176.50" r="0.85" fill="#f0a060"/>
<circle cx="466.56" cy="173.60" r="0.85" fill="#f0a060"/>
<circle cx="464.86" cy="170.70" r="0.85" fill="#f0a060"/>
<circle cx="466.56" cy="167.80" r="0.85" fill="#f0a060"/>
<circle cx="464.86" cy="164.90" r="0.85" fill="#f0a060"/>
<circle cx="466.56" cy="162.00" r="0.85" fill="#f0a060"/>
<circle cx="464.86" cy="159.10" r="0.85" fill="#f0a060"/>
<circle cx="466.56" cy="156.20" r="0.85" fill="#f0a060"/>
<circle cx="464.86" cy="153.30" r="0.85" fill="#f0a060"/>
<circle cx="466.56" cy="150.40" r="0.85" fill="#f0a060"/>
<circle cx="464.86" cy="147.50" r="0.85" fill="#f0a060"/>
<circle cx="466.56" cy="144.60" r="0.85" fill="#f0a060"/>
<circle cx="464.86" cy="141.70" r="0.85" fill="#f0a060"/>
<circle cx="466.56" cy="138.80" r="0.85" fill="#f0a060"/>
<circle cx="464.86" cy="135.90" r="0.85" fill="#f0a060"/>
<circle cx="466.56" cy="133.00" r="0.85" fill="#f0a060"/>
<circle cx="464.86" cy="130.10" r="0.85" fill="#f0a060"/>
<circle cx="466.56" cy="127.20" r="0.85" fill="#f0a060"/>
<circle cx="464.86" cy="124.30" r="0.85" fill="#f0a060"/>
<circle cx="466.56" cy="121.40" r="0.85" fill="#f0a060"/>
<circle cx="464.86" cy="118.50" r="0.85" fill="#f0a060"/>
<circle cx="466.56" cy="115.60" r="0.85" fill="#f0a060"/>
<circle cx="464.86" cy="112.70" r="0.85" fill="#f0a060"/>
<circle cx="466.56" cy="109.80" r="0.85" fill="#f0a060"/>
<line x1="472.74" y1="195.40" x2="472.74" y2="188.85" stroke="#000" stroke-width="1.2" />
<line x1="471.04" y1="188.10" x2="474.44" y2="188.10" stroke="#000" stroke-width="1.5" />
<rect x="470.34" y="196.05" width="4.80" height="57.65" fill="#26f520" stroke="#000" stroke-width="1.3"/>
<line x1="479.77" y1="115.20" x2="479.77" y2="109.05" stroke="#000" stroke-width="1.2" />
<line x1="478.07" y1="108.30" x2="481.47" y2="108.30" stroke="#000" stroke-width="1.5" />
<rect x="477.37" y="115.85" width="4.80" height="137.85" fill="#003a00" stroke="#000" stroke-width="1.3"/>
<circle cx="478.92" cy="251.90" r="0.85" fill="#60d060"/>
<circle cx="480.62" cy="249.00" r="0.85" fill="#60d060"/>
<circle cx="478.92" cy="246.10" r="0.85" fill="#60d060"/>
<circle cx="480.62" cy="243.20" r="0.85" fill="#60d060"/>
<circle cx="478.92" cy="240.30" r="0.85" fill="#60d060"/>
<circle cx="480.62" cy="237.40" r="0.85" fill="#60d060"/>
<circle cx="478.92" cy="234.50" r="0.85" fill="#60d060"/>
<circle cx="480.62" cy="231.60" r="0.85" fill="#60d060"/>
<circle cx="478.92" cy="228.70" r="0.85" fill="#60d060"/>
<circle cx="480.62" cy="225.80" r="0.85" fill="#60d060"/>
<circle cx="478.92" cy="222.90" r="0.85" fill="#60d060"/>
<circle cx="480.62" cy="220.00" r="0.85" fill="#60d060"/>
<circle cx="478.92" cy="217.10" r="0.85" fill="#60d060"/>
<circle cx="480.62" cy="214.20" r="0.85" fill="#60d060"/>
<circle cx="478.92" cy="211.30" r="0.85" fill="#60d060"/>
<circle cx="480.62" cy="208.40" r="0.85" fill="#60d060"/>
<circle cx="478.92" cy="205.50" r="0.85" fill="#60d060"/>
<circle cx="480.62" cy="202.60" r="0.85" fill="#60d060"/>
<circle cx="478.92" cy="199.70" r="0.85" fill="#60d060"/>
<circle cx="480.62" cy="196.80" r="0.85" fill="#60d060"/>
<circle cx="478.92" cy="193.90" r="0.85" fill="#60d060"/>
<circle cx="480.62" cy="191.00" r="0.85" fill="#60d060"/>
<circle cx="478.92" cy="188.10" r="0.85" fill="#60d060"/>
<circle cx="480.62" cy="185.20" r="0.85" fill="#60d060"/>
<circle cx="478.92" cy="182.30" r="0.85" fill="#60d060"/>
<circle cx="480.62" cy="179.40" r="0.85" fill="#60d060"/>
<circle cx="478.92" cy="176.50" r="0.85" fill="#60d060"/>
<circle cx="480.62" cy="173.60" r="0.85" fill="#60d060"/>
<circle cx="478.92" cy="170.70" r="0.85" fill="#60d060"/>
<circle cx="480.62" cy="167.80" r="0.85" fill="#60d060"/>
<circle cx="478.92" cy="164.90" r="0.85" fill="#60d060"/>
<circle cx="480.62" cy="162.00" r="0.85" fill="#60d060"/>
<circle cx="478.92" cy="159.10" r="0.85" fill="#60d060"/>
<circle cx="480.62" cy="156.20" r="0.85" fill="#60d060"/>
<circle cx="478.92" cy="153.30" r="0.85" fill="#60d060"/>
<circle cx="480.62" cy="150.40" r="0.85" fill="#60d060"/>
<circle cx="478.92" cy="147.50" r="0.85" fill="#60d060"/>
<circle cx="480.62" cy="144.60" r="0.85" fill="#60d060"/>
<circle cx="478.92" cy="141.70" r="0.85" fill="#60d060"/>
<circle cx="480.62" cy="138.80" r="0.85" fill="#60d060"/>
<circle cx="478.92" cy="135.90" r="0.85" fill="#60d060"/>
<circle cx="480.62" cy="133.00" r="0.85" fill="#60d060"/>
<circle cx="478.92" cy="130.10" r="0.85" fill="#60d060"/>
<circle cx="480.62" cy="127.20" r="0.85" fill="#60d060"/>
<circle cx="478.92" cy="124.30" r="0.85" fill="#60d060"/>
<circle cx="480.62" cy="121.40" r="0.85" fill="#60d060"/>
<circle cx="478.92" cy="118.50" r="0.85" fill="#60d060"/>
<line x1="486.80" y1="199.20" x2="486.80" y2="193.25" stroke="#000" stroke-width="1.2" />
<line x1="485.10" y1="192.50" x2="488.50" y2="192.50" stroke="#000" stroke-width="1.5" />
<rect x="484.40" y="199.85" width="4.80" height="53.85" fill="#3cf0ff" stroke="#000" stroke-width="1.3"/>
<line x1="493.83" y1="105.50" x2="493.83" y2="101.05" stroke="#000" stroke-width="1.2" />
<line x1="492.13" y1="100.30" x2="495.53" y2="100.30" stroke="#000" stroke-width="1.5" />
<rect x="491.43" y="106.15" width="4.80" height="147.55" fill="#003a40" stroke="#000" stroke-width="1.3"/>
<circle cx="492.98" cy="251.90" r="0.85" fill="#70f0f0"/>
<circle cx="494.68" cy="249.00" r="0.85" fill="#70f0f0"/>
<circle cx="492.98" cy="246.10" r="0.85" fill="#70f0f0"/>
<circle cx="494.68" cy="243.20" r="0.85" fill="#70f0f0"/>
<circle cx="492.98" cy="240.30" r="0.85" fill="#70f0f0"/>
<circle cx="494.68" cy="237.40" r="0.85" fill="#70f0f0"/>
<circle cx="492.98" cy="234.50" r="0.85" fill="#70f0f0"/>
<circle cx="494.68" cy="231.60" r="0.85" fill="#70f0f0"/>
<circle cx="492.98" cy="228.70" r="0.85" fill="#70f0f0"/>
<circle cx="494.68" cy="225.80" r="0.85" fill="#70f0f0"/>
<circle cx="492.98" cy="222.90" r="0.85" fill="#70f0f0"/>
<circle cx="494.68" cy="220.00" r="0.85" fill="#70f0f0"/>
<circle cx="492.98" cy="217.10" r="0.85" fill="#70f0f0"/>
<circle cx="494.68" cy="214.20" r="0.85" fill="#70f0f0"/>
<circle cx="492.98" cy="211.30" r="0.85" fill="#70f0f0"/>
<circle cx="494.68" cy="208.40" r="0.85" fill="#70f0f0"/>
<circle cx="492.98" cy="205.50" r="0.85" fill="#70f0f0"/>
<circle cx="494.68" cy="202.60" r="0.85" fill="#70f0f0"/>
<circle cx="492.98" cy="199.70" r="0.85" fill="#70f0f0"/>
<circle cx="494.68" cy="196.80" r="0.85" fill="#70f0f0"/>
<circle cx="492.98" cy="193.90" r="0.85" fill="#70f0f0"/>
<circle cx="494.68" cy="191.00" r="0.85" fill="#70f0f0"/>
<circle cx="492.98" cy="188.10" r="0.85" fill="#70f0f0"/>
<circle cx="494.68" cy="185.20" r="0.85" fill="#70f0f0"/>
<circle cx="492.98" cy="182.30" r="0.85" fill="#70f0f0"/>
<circle cx="494.68" cy="179.40" r="0.85" fill="#70f0f0"/>
<circle cx="492.98" cy="176.50" r="0.85" fill="#70f0f0"/>
<circle cx="494.68" cy="173.60" r="0.85" fill="#70f0f0"/>
<circle cx="492.98" cy="170.70" r="0.85" fill="#70f0f0"/>
<circle cx="494.68" cy="167.80" r="0.85" fill="#70f0f0"/>
<circle cx="492.98" cy="164.90" r="0.85" fill="#70f0f0"/>
<circle cx="494.68" cy="162.00" r="0.85" fill="#70f0f0"/>
<circle cx="492.98" cy="159.10" r="0.85" fill="#70f0f0"/>
<circle cx="494.68" cy="156.20" r="0.85" fill="#70f0f0"/>
<circle cx="492.98" cy="153.30" r="0.85" fill="#70f0f0"/>
<circle cx="494.68" cy="150.40" r="0.85" fill="#70f0f0"/>
<circle cx="492.98" cy="147.50" r="0.85" fill="#70f0f0"/>
<circle cx="494.68" cy="144.60" r="0.85" fill="#70f0f0"/>
<circle cx="492.98" cy="141.70" r="0.85" fill="#70f0f0"/>
<circle cx="494.68" cy="138.80" r="0.85" fill="#70f0f0"/>
<circle cx="492.98" cy="135.90" r="0.85" fill="#70f0f0"/>
<circle cx="494.68" cy="133.00" r="0.85" fill="#70f0f0"/>
<circle cx="492.98" cy="130.10" r="0.85" fill="#70f0f0"/>
<circle cx="494.68" cy="127.20" r="0.85" fill="#70f0f0"/>
<circle cx="492.98" cy="124.30" r="0.85" fill="#70f0f0"/>
<circle cx="494.68" cy="121.40" r="0.85" fill="#70f0f0"/>
<circle cx="492.98" cy="118.50" r="0.85" fill="#70f0f0"/>
<circle cx="494.68" cy="115.60" r="0.85" fill="#70f0f0"/>
<circle cx="492.98" cy="112.70" r="0.85" fill="#70f0f0"/>
<circle cx="494.68" cy="109.80" r="0.85" fill="#70f0f0"/>
<line x1="307.50" y1="77.00" x2="307.50" y2="254.40" stroke="#000" stroke-width="1.6" />
<line x1="307.00" y1="253.70" x2="514.00" y2="253.70" stroke="#000" stroke-width="1.6" />
<line x1="303.00" y1="77.60" x2="307.50" y2="77.60" stroke="#000" stroke-width="1.6" />
<text x="303.20" y="80.30" font-size="7.5" text-anchor="end" font-weight="normal" fill="#111" stroke="#111" stroke-width="0.22" textLength="14.35" lengthAdjust="spacingAndGlyphs" >1000</text>
<line x1="303.00" y1="121.60" x2="307.50" y2="121.60" stroke="#000" stroke-width="1.6" />
<text x="303.20" y="124.30" font-size="7.5" text-anchor="end" font-weight="normal" fill="#111" stroke="#111" stroke-width="0.22" textLength="10.76" lengthAdjust="spacingAndGlyphs" >100</text>
<line x1="303.00" y1="165.60" x2="307.50" y2="165.60" stroke="#000" stroke-width="1.6" />
<text x="303.20" y="168.30" font-size="7.5" text-anchor="end" font-weight="normal" fill="#111" stroke="#111" stroke-width="0.22" textLength="7.17" lengthAdjust="spacingAndGlyphs" >10</text>
<line x1="303.00" y1="209.60" x2="307.50" y2="209.60" stroke="#000" stroke-width="1.6" />
<text x="303.20" y="212.30" font-size="7.5" text-anchor="end" font-weight="normal" fill="#111" stroke="#111" stroke-width="0.22" textLength="3.59" lengthAdjust="spacingAndGlyphs" >1</text>
<line x1="303.00" y1="253.60" x2="307.50" y2="253.60" stroke="#000" stroke-width="1.6" />
<text x="303.20" y="256.30" font-size="7.5" text-anchor="end" font-weight="normal" fill="#111" stroke="#111" stroke-width="0.22" textLength="8.97" lengthAdjust="spacingAndGlyphs" >0.1</text>
<line x1="304.40" y1="240.35" x2="307.50" y2="240.35" stroke="#000" stroke-width="1.1" />
<line x1="304.40" y1="232.61" x2="307.50" y2="232.61" stroke="#000" stroke-width="1.1" />
<line x1="304.40" y1="227.11" x2="307.50" y2="227.11" stroke="#000" stroke-width="1.1" />
<line x1="304.40" y1="222.85" x2="307.50" y2="222.85" stroke="#000" stroke-width="1.1" />
<line x1="304.40" y1="219.36" x2="307.50" y2="219.36" stroke="#000" stroke-width="1.1" />
<line x1="304.40" y1="216.42" x2="307.50" y2="216.42" stroke="#000" stroke-width="1.1" />
<line x1="304.40" y1="213.86" x2="307.50" y2="213.86" stroke="#000" stroke-width="1.1" />
<line x1="304.40" y1="211.61" x2="307.50" y2="211.61" stroke="#000" stroke-width="1.1" />
<line x1="304.40" y1="196.35" x2="307.50" y2="196.35" stroke="#000" stroke-width="1.1" />
<line x1="304.40" y1="188.61" x2="307.50" y2="188.61" stroke="#000" stroke-width="1.1" />
<line x1="304.40" y1="183.11" x2="307.50" y2="183.11" stroke="#000" stroke-width="1.1" />
<line x1="304.40" y1="178.85" x2="307.50" y2="178.85" stroke="#000" stroke-width="1.1" />
<line x1="304.40" y1="175.36" x2="307.50" y2="175.36" stroke="#000" stroke-width="1.1" />
<line x1="304.40" y1="172.42" x2="307.50" y2="172.42" stroke="#000" stroke-width="1.1" />
<line x1="304.40" y1="169.86" x2="307.50" y2="169.86" stroke="#000" stroke-width="1.1" />
<line x1="304.40" y1="167.61" x2="307.50" y2="167.61" stroke="#000" stroke-width="1.1" />
<line x1="304.40" y1="152.35" x2="307.50" y2="152.35" stroke="#000" stroke-width="1.1" />
<line x1="304.40" y1="144.61" x2="307.50" y2="144.61" stroke="#000" stroke-width="1.1" />
<line x1="304.40" y1="139.11" x2="307.50" y2="139.11" stroke="#000" stroke-width="1.1" />
<line x1="304.40" y1="134.85" x2="307.50" y2="134.85" stroke="#000" stroke-width="1.1" />
<line x1="304.40" y1="131.36" x2="307.50" y2="131.36" stroke="#000" stroke-width="1.1" />
<line x1="304.40" y1="128.42" x2="307.50" y2="128.42" stroke="#000" stroke-width="1.1" />
<line x1="304.40" y1="125.86" x2="307.50" y2="125.86" stroke="#000" stroke-width="1.1" />
<line x1="304.40" y1="123.61" x2="307.50" y2="123.61" stroke="#000" stroke-width="1.1" />
<line x1="304.40" y1="108.35" x2="307.50" y2="108.35" stroke="#000" stroke-width="1.1" />
<line x1="304.40" y1="100.61" x2="307.50" y2="100.61" stroke="#000" stroke-width="1.1" />
<line x1="304.40" y1="95.11" x2="307.50" y2="95.11" stroke="#000" stroke-width="1.1" />
<line x1="304.40" y1="90.85" x2="307.50" y2="90.85" stroke="#000" stroke-width="1.1" />
<line x1="304.40" y1="87.36" x2="307.50" y2="87.36" stroke="#000" stroke-width="1.1" />
<line x1="304.40" y1="84.42" x2="307.50" y2="84.42" stroke="#000" stroke-width="1.1" />
<line x1="304.40" y1="81.86" x2="307.50" y2="81.86" stroke="#000" stroke-width="1.1" />
<line x1="304.40" y1="79.61" x2="307.50" y2="79.61" stroke="#000" stroke-width="1.1" />
<line x1="359.60" y1="253.70" x2="359.60" y2="258.30" stroke="#000" stroke-width="1.6" />
<text x="359.60" y="265.80" font-size="7.2" text-anchor="middle" font-weight="normal" fill="#111" stroke="#111" stroke-width="0.22" textLength="9.12" lengthAdjust="spacingAndGlyphs" >TR</text>
<line x1="461.70" y1="253.70" x2="461.70" y2="258.30" stroke="#000" stroke-width="1.6" />
<text x="461.70" y="265.80" font-size="7.2" text-anchor="middle" font-weight="normal" fill="#111" stroke="#111" stroke-width="0.22" textLength="17.74" lengthAdjust="spacingAndGlyphs" >TERT</text>
<text x="378.80" y="272.50" font-size="10" text-anchor="start" font-weight="normal" fill="#111" stroke="#111" stroke-width="0.22"  textLength="63.4" lengthAdjust="spacingAndGlyphs">RNA measured</text>
<text transform="translate(288.40,165.35) rotate(-90)" font-size="9.4" text-anchor="middle" fill="#111" stroke="#111" stroke-width="0.22" textLength="165.7" lengthAdjust="spacingAndGlyphs">Fold change over shScramble<tspan dx="0.6">GFP (log)</tspan></text>
<rect x="335.70" y="2.60" width="16.6" height="4.8" fill="#800080" stroke="#000" stroke-width="1.5"/>
<text x="359.30" y="7.50" font-size="7.2" text-anchor="start" font-weight="normal" fill="#111" stroke="#111" stroke-width="0.22" textLength="25.61" lengthAdjust="spacingAndGlyphs" >EV GFP</text>
<rect x="335.70" y="12.20" width="16.6" height="4.8" fill="#1a001a" stroke="#000" stroke-width="1.5"/>
<polyline points="337.40,14.60 337.90,15.17 338.40,15.48 338.90,15.40 339.40,14.96 339.90,14.36 340.40,13.86 340.90,13.70 341.40,13.94 341.90,14.48 342.40,15.07 342.90,15.45 343.40,15.45 343.90,15.07 344.40,14.48 344.90,13.94 345.40,13.70 345.90,13.86 346.40,14.36 346.90,14.96 347.40,15.40 347.90,15.48 348.40,15.17 348.90,14.60 349.40,14.03 349.90,13.72 350.40,13.80 350.90,14.24 351.40,14.84" fill="none" stroke="#b050b0" stroke-width="1.0"/>
<text x="359.30" y="17.10" font-size="7.2" text-anchor="start" font-weight="normal" fill="#111" stroke="#111" stroke-width="0.22" textLength="29.24" lengthAdjust="spacingAndGlyphs" >EV TERT</text>
<rect x="335.70" y="21.90" width="16.6" height="4.8" fill="#ff00ff" stroke="#000" stroke-width="1.5"/>
<text x="359.30" y="26.90" font-size="7.2" text-anchor="start" font-weight="normal" fill="#111" stroke="#111" stroke-width="0.22" textLength="53.17" lengthAdjust="spacingAndGlyphs" >shScramble GFP</text>
<rect x="335.70" y="32.60" width="16.6" height="4.8" fill="#300030" stroke="#000" stroke-width="1.5"/>
<polyline points="337.40,35.00 337.90,35.57 338.40,35.88 338.90,35.80 339.40,35.36 339.90,34.76 340.40,34.26 340.90,34.10 341.40,34.34 341.90,34.88 342.40,35.47 342.90,35.85 343.40,35.85 343.90,35.47 344.40,34.88 344.90,34.34 345.40,34.10 345.90,34.26 346.40,34.76 346.90,35.36 347.40,35.80 347.90,35.88 348.40,35.57 348.90,35.00 349.40,34.43 349.90,34.12 350.40,34.20 350.90,34.64 351.40,35.24" fill="none" stroke="#ff60ff" stroke-width="1.0"/>
<text x="359.30" y="36.80" font-size="7.2" text-anchor="start" font-weight="normal" fill="#111" stroke="#111" stroke-width="0.22" textLength="56.80" lengthAdjust="spacingAndGlyphs" >shScramble TERT</text>
<rect x="335.70" y="43.40" width="16.6" height="4.8" fill="#ff0000" stroke="#000" stroke-width="1.5"/>
<text x="359.30" y="47.60" font-size="7.2" text-anchor="start" font-weight="normal" fill="#111" stroke="#111" stroke-width="0.22" textLength="27.03" lengthAdjust="spacingAndGlyphs" >WT GFP</text>
<rect x="335.70" y="53.80" width="16.6" height="4.8" fill="#3a0000" stroke="#000" stroke-width="1.5"/>
<polyline points="337.40,56.20 337.90,56.77 338.40,57.08 338.90,57.00 339.40,56.56 339.90,55.96 340.40,55.46 340.90,55.30 341.40,55.54 341.90,56.08 342.40,56.67 342.90,57.05 343.40,57.05 343.90,56.67 344.40,56.08 344.90,55.54 345.40,55.30 345.90,55.46 346.40,55.96 346.90,56.56 347.40,57.00 347.90,57.08 348.40,56.77 348.90,56.20 349.40,55.63 349.90,55.32 350.40,55.40 350.90,55.84 351.40,56.44" fill="none" stroke="#ff4040" stroke-width="1.0"/>
<text x="359.30" y="58.50" font-size="7.2" text-anchor="start" font-weight="normal" fill="#111" stroke="#111" stroke-width="0.22" textLength="30.65" lengthAdjust="spacingAndGlyphs" >WT TERT</text>
<rect x="335.70" y="65.50" width="16.6" height="4.8" fill="#ff8000" stroke="#000" stroke-width="1.5"/>
<text x="359.30" y="70.60" font-size="7.2" text-anchor="start" font-weight="normal" fill="#111" stroke="#111" stroke-width="0.22" textLength="34.94" lengthAdjust="spacingAndGlyphs" >&#916;96-7 GFP</text>
<rect x="335.70" y="78.30" width="16.6" height="4.8" fill="#3a1800" stroke="#000" stroke-width="1.5"/>
<polyline points="337.40,80.70 337.90,81.27 338.40,81.58 338.90,81.50 339.40,81.06 339.90,80.46 340.40,79.96 340.90,79.80 341.40,80.04 341.90,80.58 342.40,81.17 342.90,81.55 343.40,81.55 343.90,81.17 344.40,80.58 344.90,80.04 345.40,79.80 345.90,79.96 346.40,80.46 346.90,81.06 347.40,81.50 347.90,81.58 348.40,81.27 348.90,80.70 349.40,80.13 349.90,79.82 350.40,79.90 350.90,80.34 351.40,80.94" fill="none" stroke="#f0a060" stroke-width="1.0"/>
<text x="359.30" y="82.40" font-size="7.2" text-anchor="start" font-weight="normal" fill="#111" stroke="#111" stroke-width="0.22" textLength="40.25" lengthAdjust="spacingAndGlyphs" >&#916; 96-7 TERT</text>
<rect x="335.70" y="88.90" width="16.6" height="4.8" fill="#26f520" stroke="#000" stroke-width="1.5"/>
<text x="359.30" y="93.50" font-size="7.2" text-anchor="start" font-weight="normal" fill="#111" stroke="#111" stroke-width="0.22" textLength="37.66" lengthAdjust="spacingAndGlyphs" >G305A GFP</text>
<rect x="335.70" y="98.70" width="16.6" height="4.8" fill="#003a00" stroke="#000" stroke-width="1.5"/>
<polyline points="337.40,101.10 337.90,101.67 338.40,101.98 338.90,101.90 339.40,101.46 339.90,100.86 340.40,100.36 340.90,100.20 341.40,100.44 341.90,100.98 342.40,101.57 342.90,101.95 343.40,101.95 343.90,101.57 344.40,100.98 344.90,100.44 345.40,100.20 345.90,100.36 346.40,100.86 346.90,101.46 347.40,101.90 347.90,101.98 348.40,101.67 348.90,101.10 349.40,100.53 349.90,100.22 350.40,100.30 350.90,100.74 351.40,101.34" fill="none" stroke="#60d060" stroke-width="1.0"/>
<text x="359.30" y="103.50" font-size="7.2" text-anchor="start" font-weight="normal" fill="#111" stroke="#111" stroke-width="0.22" textLength="41.28" lengthAdjust="spacingAndGlyphs" >G305A TERT</text>
<rect x="335.70" y="109.70" width="16.6" height="4.8" fill="#3cf0ff" stroke="#000" stroke-width="1.5"/>
<text x="359.30" y="114.00" font-size="7.2" text-anchor="start" font-weight="normal" fill="#111" stroke="#111" stroke-width="0.22" textLength="29.11" lengthAdjust="spacingAndGlyphs" >U64 GFP</text>
<rect x="335.70" y="118.20" width="16.6" height="4.8" fill="#003a40" stroke="#000" stroke-width="1.5"/>
<polyline points="337.40,120.60 337.90,121.17 338.40,121.48 338.90,121.40 339.40,120.96 339.90,120.36 340.40,119.86 340.90,119.70 341.40,119.94 341.90,120.48 342.40,121.07 342.90,121.45 343.40,121.45 343.90,121.07 344.40,120.48 344.90,119.94 345.40,119.70 345.90,119.86 346.40,120.36 346.90,120.96 347.40,121.40 347.90,121.48 348.40,121.17 348.90,120.60 349.40,120.03 349.90,119.72 350.40,119.80 350.90,120.24 351.40,120.84" fill="none" stroke="#70f0f0" stroke-width="1.0"/>
<text x="359.30" y="122.30" font-size="7.2" text-anchor="start" font-weight="normal" fill="#111" stroke="#111" stroke-width="0.22" textLength="32.74" lengthAdjust="spacingAndGlyphs" >U64 TERT</text>
<text x="1.00" y="327.60" font-size="10.5" text-anchor="start" font-weight="bold" fill="#000"   >C</text>
<line x1="34.30" y1="332.50" x2="34.30" y2="527.00" stroke="#000" stroke-width="1.6" />
<line x1="28.60" y1="526.50" x2="34.30" y2="526.50" stroke="#000" stroke-width="1.6" />
<text x="27.80" y="529.20" font-size="7.5" text-anchor="end" font-weight="normal" fill="#111" stroke="#111" stroke-width="0.22" textLength="9.80" lengthAdjust="spacingAndGlyphs" >0.0</text>
<line x1="28.60" y1="487.75" x2="34.30" y2="487.75" stroke="#000" stroke-width="1.6" />
<text x="27.80" y="490.45" font-size="7.5" text-anchor="end" font-weight="normal" fill="#111" stroke="#111" stroke-width="0.22" textLength="9.80" lengthAdjust="spacingAndGlyphs" >0.5</text>
<line x1="28.60" y1="449.00" x2="34.30" y2="449.00" stroke="#000" stroke-width="1.6" />
<text x="27.80" y="451.70" font-size="7.5" text-anchor="end" font-weight="normal" fill="#111" stroke="#111" stroke-width="0.22" textLength="9.80" lengthAdjust="spacingAndGlyphs" >1.0</text>
<line x1="28.60" y1="410.25" x2="34.30" y2="410.25" stroke="#000" stroke-width="1.6" />
<text x="27.80" y="412.95" font-size="7.5" text-anchor="end" font-weight="normal" fill="#111" stroke="#111" stroke-width="0.22" textLength="9.80" lengthAdjust="spacingAndGlyphs" >1.5</text>
<line x1="28.60" y1="371.50" x2="34.30" y2="371.50" stroke="#000" stroke-width="1.6" />
<text x="27.80" y="374.20" font-size="7.5" text-anchor="end" font-weight="normal" fill="#111" stroke="#111" stroke-width="0.22" textLength="9.80" lengthAdjust="spacingAndGlyphs" >2.0</text>
<line x1="28.60" y1="332.75" x2="34.30" y2="332.75" stroke="#000" stroke-width="1.6" />
<text x="27.80" y="335.45" font-size="7.5" text-anchor="end" font-weight="normal" fill="#111" stroke="#111" stroke-width="0.22" textLength="9.80" lengthAdjust="spacingAndGlyphs" >2.5</text>
<line x1="33.50" y1="526.30" x2="250.00" y2="526.30" stroke="#000" stroke-width="1.6" />
<line x1="42.80" y1="450.30" x2="42.80" y2="405.45" stroke="#000" stroke-width="1.5" />
<line x1="39.30" y1="404.60" x2="46.30" y2="404.60" stroke="#000" stroke-width="1.7" />
<rect x="37.10" y="451.25" width="11.40" height="75.05" fill="#800080" stroke="#000" stroke-width="1.9"/>
<line x1="42.80" y1="526.30" x2="42.80" y2="531.60" stroke="#000" stroke-width="1.6" />
<text transform="translate(45.30,536.90) rotate(-45)" font-size="8.1" text-anchor="end" fill="#111" stroke="#111" stroke-width="0.22" >EV+GFP</text>
<line x1="60.80" y1="466.90" x2="60.80" y2="436.75" stroke="#000" stroke-width="1.5" />
<line x1="57.30" y1="435.90" x2="64.30" y2="435.90" stroke="#000" stroke-width="1.7" />
<rect x="55.10" y="467.85" width="11.40" height="58.45" fill="url(#c800080)" stroke="#000" stroke-width="1.9"/>
<line x1="60.80" y1="526.30" x2="60.80" y2="531.60" stroke="#000" stroke-width="1.6" />
<text transform="translate(63.30,536.90) rotate(-45)" font-size="8.1" text-anchor="end" fill="#111" stroke="#111" stroke-width="0.22" >EV+TERT</text>
<line x1="78.80" y1="472.20" x2="78.80" y2="471.15" stroke="#000" stroke-width="1.5" />
<line x1="75.30" y1="470.30" x2="82.30" y2="470.30" stroke="#000" stroke-width="1.7" />
<rect x="73.10" y="473.15" width="11.40" height="53.15" fill="#ff00ff" stroke="#000" stroke-width="1.9"/>
<line x1="78.80" y1="526.30" x2="78.80" y2="531.60" stroke="#000" stroke-width="1.6" />
<text transform="translate(81.30,536.90) rotate(-45)" font-size="8.1" text-anchor="end" fill="#111" stroke="#111" stroke-width="0.22" >shScramble+GFP</text>
<line x1="96.80" y1="488.90" x2="96.80" y2="482.05" stroke="#000" stroke-width="1.5" />
<line x1="93.30" y1="481.20" x2="100.30" y2="481.20" stroke="#000" stroke-width="1.7" />
<rect x="91.10" y="489.85" width="11.40" height="36.45" fill="url(#cff00ff)" stroke="#000" stroke-width="1.9"/>
<line x1="96.80" y1="526.30" x2="96.80" y2="531.60" stroke="#000" stroke-width="1.6" />
<text transform="translate(99.30,536.90) rotate(-45)" font-size="8.1" text-anchor="end" fill="#111" stroke="#111" stroke-width="0.22" >shScramble+TERT</text>
<line x1="114.80" y1="396.30" x2="114.80" y2="372.75" stroke="#000" stroke-width="1.5" />
<line x1="111.30" y1="371.90" x2="118.30" y2="371.90" stroke="#000" stroke-width="1.7" />
<rect x="109.10" y="397.25" width="11.40" height="129.05" fill="#ff0000" stroke="#000" stroke-width="1.9"/>
<line x1="114.80" y1="526.30" x2="114.80" y2="531.60" stroke="#000" stroke-width="1.6" />
<text transform="translate(117.30,536.90) rotate(-45)" font-size="8.1" text-anchor="end" fill="#111" stroke="#111" stroke-width="0.22" >WT+GFP</text>
<line x1="132.80" y1="436.40" x2="132.80" y2="425.25" stroke="#000" stroke-width="1.5" />
<line x1="129.30" y1="424.40" x2="136.30" y2="424.40" stroke="#000" stroke-width="1.7" />
<rect x="127.10" y="437.35" width="11.40" height="88.95" fill="url(#cff0000)" stroke="#000" stroke-width="1.9"/>
<line x1="132.80" y1="526.30" x2="132.80" y2="531.60" stroke="#000" stroke-width="1.6" />
<text transform="translate(135.30,536.90) rotate(-45)" font-size="8.1" text-anchor="end" fill="#111" stroke="#111" stroke-width="0.22" >WT+TERT</text>
<line x1="150.80" y1="404.90" x2="150.80" y2="384.75" stroke="#000" stroke-width="1.5" />
<line x1="147.30" y1="383.90" x2="154.30" y2="383.90" stroke="#000" stroke-width="1.7" />
<rect x="145.10" y="405.85" width="11.40" height="120.45" fill="#ff8000" stroke="#000" stroke-width="1.9"/>
<line x1="150.80" y1="526.30" x2="150.80" y2="531.60" stroke="#000" stroke-width="1.6" />
<text transform="translate(153.30,536.90) rotate(-45)" font-size="8.1" text-anchor="end" fill="#111" stroke="#111" stroke-width="0.22" >&#916;96-7+GFP</text>
<line x1="168.80" y1="401.90" x2="168.80" y2="391.85" stroke="#000" stroke-width="1.5" />
<line x1="165.30" y1="391.00" x2="172.30" y2="391.00" stroke="#000" stroke-width="1.7" />
<rect x="163.10" y="402.85" width="11.40" height="123.45" fill="url(#cff8000)" stroke="#000" stroke-width="1.9"/>
<line x1="168.80" y1="526.30" x2="168.80" y2="531.60" stroke="#000" stroke-width="1.6" />
<text transform="translate(171.30,536.90) rotate(-45)" font-size="8.1" text-anchor="end" fill="#111" stroke="#111" stroke-width="0.22" >&#916;96-7+TERT</text>
<line x1="186.80" y1="410.20" x2="186.80" y2="369.15" stroke="#000" stroke-width="1.5" />
<line x1="183.30" y1="368.30" x2="190.30" y2="368.30" stroke="#000" stroke-width="1.7" />
<rect x="181.10" y="411.15" width="11.40" height="115.15" fill="#26f520" stroke="#000" stroke-width="1.9"/>
<line x1="186.80" y1="526.30" x2="186.80" y2="531.60" stroke="#000" stroke-width="1.6" />
<text transform="translate(189.30,536.90) rotate(-45)" font-size="8.1" text-anchor="end" fill="#111" stroke="#111" stroke-width="0.22" >G305A+GFP</text>
<line x1="204.80" y1="411.50" x2="204.80" y2="381.65" stroke="#000" stroke-width="1.5" />
<line x1="201.30" y1="380.80" x2="208.30" y2="380.80" stroke="#000" stroke-width="1.7" />
<rect x="199.10" y="412.45" width="11.40" height="113.85" fill="url(#c26f520)" stroke="#000" stroke-width="1.9"/>
<line x1="204.80" y1="526.30" x2="204.80" y2="531.60" stroke="#000" stroke-width="1.6" />
<text transform="translate(207.30,536.90) rotate(-45)" font-size="8.1" text-anchor="end" fill="#111" stroke="#111" stroke-width="0.22" >G305A+TERT</text>
<line x1="222.80" y1="410.80" x2="222.80" y2="367.55" stroke="#000" stroke-width="1.5" />
<line x1="219.30" y1="366.70" x2="226.30" y2="366.70" stroke="#000" stroke-width="1.7" />
<rect x="217.10" y="411.75" width="11.40" height="114.55" fill="#3cf0ff" stroke="#000" stroke-width="1.9"/>
<line x1="222.80" y1="526.30" x2="222.80" y2="531.60" stroke="#000" stroke-width="1.6" />
<text transform="translate(225.30,536.90) rotate(-45)" font-size="8.1" text-anchor="end" fill="#111" stroke="#111" stroke-width="0.22" >U64+GFP</text>
<line x1="240.80" y1="463.00" x2="240.80" y2="452.85" stroke="#000" stroke-width="1.5" />
<line x1="237.30" y1="452.00" x2="244.30" y2="452.00" stroke="#000" stroke-width="1.7" />
<rect x="235.10" y="463.95" width="11.40" height="62.35" fill="url(#c3cf0ff)" stroke="#000" stroke-width="1.9"/>
<line x1="240.80" y1="526.30" x2="240.80" y2="531.60" stroke="#000" stroke-width="1.6" />
<text transform="translate(243.30,536.90) rotate(-45)" font-size="8.1" text-anchor="end" fill="#111" stroke="#111" stroke-width="0.22" >U64+TERT</text>
<text transform="translate(8.60,430.40) rotate(-90)" font-size="9.6" text-anchor="middle" fill="#111" stroke="#111" stroke-width="0.22" textLength="81.9" lengthAdjust="spacingAndGlyphs">Live cells (millions)</text>
<text x="262.60" y="326.80" font-size="10.5" text-anchor="start" font-weight="bold" fill="#000"   >D</text>
<line x1="308.30" y1="358.00" x2="308.30" y2="524.00" stroke="#000" stroke-width="1.6" />
<line x1="303.80" y1="523.50" x2="308.30" y2="523.50" stroke="#000" stroke-width="1.6" />
<text x="303.00" y="526.20" font-size="7.5" text-anchor="end" font-weight="normal" fill="#111" stroke="#111" stroke-width="0.22"  >0</text>
<line x1="303.80" y1="490.50" x2="308.30" y2="490.50" stroke="#000" stroke-width="1.6" />
<text x="303.6" y="493.00" font-size="6.9" text-anchor="end" fill="#111" stroke="#111" stroke-width="0.22">2&#215;10<tspan font-size="5" dy="-2.6">5</tspan></text>
<line x1="303.80" y1="457.50" x2="308.30" y2="457.50" stroke="#000" stroke-width="1.6" />
<text x="303.6" y="460.00" font-size="6.9" text-anchor="end" fill="#111" stroke="#111" stroke-width="0.22">4&#215;10<tspan font-size="5" dy="-2.6">5</tspan></text>
<line x1="303.80" y1="424.50" x2="308.30" y2="424.50" stroke="#000" stroke-width="1.6" />
<text x="303.6" y="427.00" font-size="6.9" text-anchor="end" fill="#111" stroke="#111" stroke-width="0.22">6&#215;10<tspan font-size="5" dy="-2.6">5</tspan></text>
<line x1="303.80" y1="391.50" x2="308.30" y2="391.50" stroke="#000" stroke-width="1.6" />
<text x="303.6" y="394.00" font-size="6.9" text-anchor="end" fill="#111" stroke="#111" stroke-width="0.22">8&#215;10<tspan font-size="5" dy="-2.6">5</tspan></text>
<line x1="303.80" y1="358.50" x2="308.30" y2="358.50" stroke="#000" stroke-width="1.6" />
<text x="303.6" y="361.00" font-size="6.9" text-anchor="end" fill="#111" stroke="#111" stroke-width="0.22">1&#215;10<tspan font-size="5" dy="-2.6">6</tspan></text>
<line x1="307.50" y1="523.20" x2="519.00" y2="523.20" stroke="#000" stroke-width="1.6" />
<line x1="317.00" y1="456.10" x2="317.00" y2="436.85" stroke="#000" stroke-width="1.5" />
<line x1="313.60" y1="436.00" x2="320.40" y2="436.00" stroke="#000" stroke-width="1.7" />
<rect x="311.55" y="457.05" width="10.90" height="66.15" fill="#800080" stroke="#000" stroke-width="1.9"/>
<line x1="317.00" y1="523.20" x2="317.00" y2="528.30" stroke="#000" stroke-width="1.6" />
<text transform="translate(319.30,532.90) rotate(-45)" font-size="7.2" text-anchor="end" fill="#111" stroke="#111" stroke-width="0.22" >EV+GFP</text>
<line x1="334.50" y1="400.80" x2="334.50" y2="388.25" stroke="#000" stroke-width="1.5" />
<line x1="331.10" y1="387.40" x2="337.90" y2="387.40" stroke="#000" stroke-width="1.7" />
<rect x="329.05" y="401.75" width="10.90" height="121.45" fill="url(#d800080)" stroke="#000" stroke-width="1.9"/>
<line x1="334.50" y1="523.20" x2="334.50" y2="528.30" stroke="#000" stroke-width="1.6" />
<text transform="translate(336.80,532.90) rotate(-45)" font-size="7.2" text-anchor="end" fill="#111" stroke="#111" stroke-width="0.22" >EV+TERT</text>
<line x1="352.00" y1="448.30" x2="352.00" y2="448.35" stroke="#000" stroke-width="1.5" />
<line x1="348.60" y1="447.50" x2="355.40" y2="447.50" stroke="#000" stroke-width="1.7" />
<rect x="346.55" y="449.25" width="10.90" height="73.95" fill="#ff00ff" stroke="#000" stroke-width="1.9"/>
<line x1="352.00" y1="523.20" x2="352.00" y2="528.30" stroke="#000" stroke-width="1.6" />
<text transform="translate(354.30,532.90) rotate(-45)" font-size="7.2" text-anchor="end" fill="#111" stroke="#111" stroke-width="0.22" >shScramble+GFP</text>
<line x1="369.50" y1="392.30" x2="369.50" y2="386.25" stroke="#000" stroke-width="1.5" />
<line x1="366.10" y1="385.40" x2="372.90" y2="385.40" stroke="#000" stroke-width="1.7" />
<rect x="364.05" y="393.25" width="10.90" height="129.95" fill="url(#dff00ff)" stroke="#000" stroke-width="1.9"/>
<line x1="369.50" y1="523.20" x2="369.50" y2="528.30" stroke="#000" stroke-width="1.6" />
<text transform="translate(371.80,532.90) rotate(-45)" font-size="7.2" text-anchor="end" fill="#111" stroke="#111" stroke-width="0.22" >shScramble+TERT</text>
<line x1="387.00" y1="475.20" x2="387.00" y2="467.95" stroke="#000" stroke-width="1.5" />
<line x1="383.60" y1="467.10" x2="390.40" y2="467.10" stroke="#000" stroke-width="1.7" />
<rect x="381.55" y="476.15" width="10.90" height="47.05" fill="#ff0000" stroke="#000" stroke-width="1.9"/>
<line x1="387.00" y1="523.20" x2="387.00" y2="528.30" stroke="#000" stroke-width="1.6" />
<text transform="translate(389.30,532.90) rotate(-45)" font-size="7.2" text-anchor="end" fill="#111" stroke="#111" stroke-width="0.22" >WT+GFP</text>
<line x1="404.50" y1="455.00" x2="404.50" y2="450.65" stroke="#000" stroke-width="1.5" />
<line x1="401.10" y1="449.80" x2="407.90" y2="449.80" stroke="#000" stroke-width="1.7" />
<rect x="399.05" y="455.95" width="10.90" height="67.25" fill="url(#dff0000)" stroke="#000" stroke-width="1.9"/>
<line x1="404.50" y1="523.20" x2="404.50" y2="528.30" stroke="#000" stroke-width="1.6" />
<text transform="translate(406.80,532.90) rotate(-45)" font-size="7.2" text-anchor="end" fill="#111" stroke="#111" stroke-width="0.22" >WT+TERT</text>
<line x1="422.00" y1="467.30" x2="422.00" y2="456.65" stroke="#000" stroke-width="1.5" />
<line x1="418.60" y1="455.80" x2="425.40" y2="455.80" stroke="#000" stroke-width="1.7" />
<rect x="416.55" y="468.25" width="10.90" height="54.95" fill="#ff8000" stroke="#000" stroke-width="1.9"/>
<line x1="422.00" y1="523.20" x2="422.00" y2="528.30" stroke="#000" stroke-width="1.6" />
<text transform="translate(424.30,532.90) rotate(-45)" font-size="7.2" text-anchor="end" fill="#111" stroke="#111" stroke-width="0.22" >&#916;96-7+GFP</text>
<line x1="439.50" y1="468.70" x2="439.50" y2="465.75" stroke="#000" stroke-width="1.5" />
<line x1="436.10" y1="464.90" x2="442.90" y2="464.90" stroke="#000" stroke-width="1.7" />
<rect x="434.05" y="469.65" width="10.90" height="53.55" fill="url(#dff8000)" stroke="#000" stroke-width="1.9"/>
<line x1="439.50" y1="523.20" x2="439.50" y2="528.30" stroke="#000" stroke-width="1.6" />
<text transform="translate(441.80,532.90) rotate(-45)" font-size="7.2" text-anchor="end" fill="#111" stroke="#111" stroke-width="0.22" >&#916;96-7+TERT</text>
<line x1="457.00" y1="471.10" x2="457.00" y2="463.35" stroke="#000" stroke-width="1.5" />
<line x1="453.60" y1="462.50" x2="460.40" y2="462.50" stroke="#000" stroke-width="1.7" />
<rect x="451.55" y="472.05" width="10.90" height="51.15" fill="#26f520" stroke="#000" stroke-width="1.9"/>
<line x1="457.00" y1="523.20" x2="457.00" y2="528.30" stroke="#000" stroke-width="1.6" />
<text transform="translate(459.30,532.90) rotate(-45)" font-size="7.2" text-anchor="end" fill="#111" stroke="#111" stroke-width="0.22" >G305A+GFP</text>
<line x1="474.50" y1="467.30" x2="474.50" y2="460.95" stroke="#000" stroke-width="1.5" />
<line x1="471.10" y1="460.10" x2="477.90" y2="460.10" stroke="#000" stroke-width="1.7" />
<rect x="469.05" y="468.25" width="10.90" height="54.95" fill="url(#d26f520)" stroke="#000" stroke-width="1.9"/>
<line x1="474.50" y1="523.20" x2="474.50" y2="528.30" stroke="#000" stroke-width="1.6" />
<text transform="translate(476.80,532.90) rotate(-45)" font-size="7.2" text-anchor="end" fill="#111" stroke="#111" stroke-width="0.22" >G305A+TERT</text>
<line x1="492.00" y1="464.00" x2="492.00" y2="452.85" stroke="#000" stroke-width="1.5" />
<line x1="488.60" y1="452.00" x2="495.40" y2="452.00" stroke="#000" stroke-width="1.7" />
<rect x="486.55" y="464.95" width="10.90" height="58.25" fill="#3cf0ff" stroke="#000" stroke-width="1.9"/>
<line x1="492.00" y1="523.20" x2="492.00" y2="528.30" stroke="#000" stroke-width="1.6" />
<text transform="translate(494.30,532.90) rotate(-45)" font-size="7.2" text-anchor="end" fill="#111" stroke="#111" stroke-width="0.22" >U64+GFP</text>
<line x1="509.50" y1="441.00" x2="509.50" y2="436.15" stroke="#000" stroke-width="1.5" />
<line x1="506.10" y1="435.30" x2="512.90" y2="435.30" stroke="#000" stroke-width="1.7" />
<rect x="504.05" y="441.95" width="10.90" height="81.25" fill="url(#d3cf0ff)" stroke="#000" stroke-width="1.9"/>
<line x1="509.50" y1="523.20" x2="509.50" y2="528.30" stroke="#000" stroke-width="1.6" />
<text transform="translate(511.80,532.90) rotate(-45)" font-size="7.2" text-anchor="end" fill="#111" stroke="#111" stroke-width="0.22" >U64+TERT</text>
<text transform="translate(270.70,442.30) rotate(-90)" font-size="9.0" text-anchor="middle" fill="#111" stroke="#111" stroke-width="0.22" textLength="80" lengthAdjust="spacingAndGlyphs">Luminescence units</text>
<line x1="315.60" y1="378.20" x2="332.60" y2="378.20" stroke="#000" stroke-width="1.4" />
<line x1="315.60" y1="374.20" x2="315.60" y2="382.20" stroke="#000" stroke-width="1.4" />
<line x1="332.60" y1="374.20" x2="332.60" y2="382.20" stroke="#000" stroke-width="1.4" />
<text x="324.10" y="377.10" font-size="7.4" text-anchor="middle" font-weight="normal" fill="#000" stroke="#000" stroke-width="0.35"  >**</text>
<line x1="347.60" y1="372.30" x2="369.80" y2="372.30" stroke="#000" stroke-width="1.4" />
<line x1="347.60" y1="368.30" x2="347.60" y2="376.30" stroke="#000" stroke-width="1.4" />
<line x1="369.80" y1="368.30" x2="369.80" y2="376.30" stroke="#000" stroke-width="1.4" />
<text x="358.70" y="372.40" font-size="7.4" text-anchor="middle" font-weight="normal" fill="#000" stroke="#000" stroke-width="0.35"  >****</text>
<line x1="382.90" y1="438.30" x2="403.60" y2="438.30" stroke="#000" stroke-width="1.4" />
<line x1="382.90" y1="434.30" x2="382.90" y2="442.30" stroke="#000" stroke-width="1.4" />
<line x1="403.60" y1="434.30" x2="403.60" y2="442.30" stroke="#000" stroke-width="1.4" />
<text x="393.25" y="436.60" font-size="7.4" text-anchor="middle" font-weight="normal" fill="#000" stroke="#000" stroke-width="0.35"  >***</text>
<line x1="489.40" y1="423.90" x2="508.60" y2="423.90" stroke="#000" stroke-width="1.4" />
<line x1="489.40" y1="419.90" x2="489.40" y2="427.90" stroke="#000" stroke-width="1.4" />
<line x1="508.60" y1="419.90" x2="508.60" y2="427.90" stroke="#000" stroke-width="1.4" />
<text x="499.00" y="423.30" font-size="7.4" text-anchor="middle" font-weight="normal" fill="#000" stroke="#000" stroke-width="0.35"  >**</text>
</svg></body></html>
